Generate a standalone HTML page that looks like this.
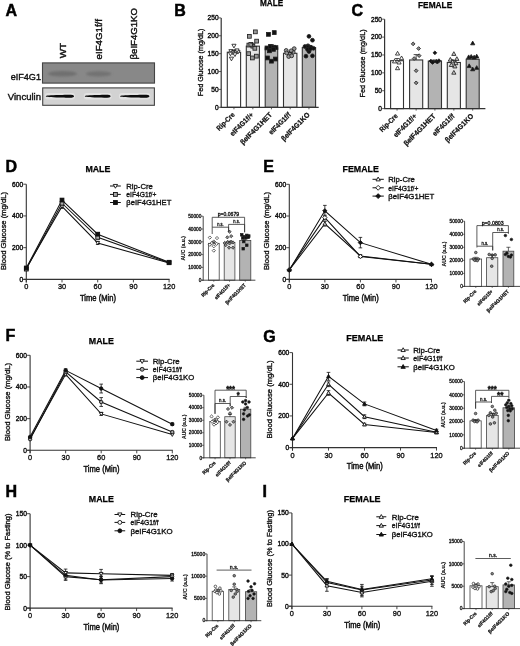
<!DOCTYPE html>
<html><head><meta charset="utf-8"><title>Figure</title>
<style>html,body{margin:0;padding:0;background:#fff;width:520px;height:646px;overflow:hidden}svg{display:block;filter:blur(0.35px)}</style>
</head><body>
<svg width="520" height="646" viewBox="0 0 520 646" font-family='"Liberation Sans", sans-serif' fill="#111"><text x="5.5" y="16" font-size="16" stroke="#000" stroke-width="0.5" font-weight="bold" fill="#000">A</text>
<text x="65.7" y="58.2" font-size="9.2" stroke="#111" stroke-width="0.4" transform="rotate(-90 65.7 58.2)" textLength="15.2" lengthAdjust="spacingAndGlyphs">WT</text>
<text x="102.3" y="59.4" font-size="9.2" stroke="#111" stroke-width="0.4" transform="rotate(-90 102.3 59.4)" textLength="40.4" lengthAdjust="spacingAndGlyphs">eIF4G1f/f</text>
<text x="137.5" y="59.4" font-size="9.2" stroke="#111" stroke-width="0.4" transform="rotate(-90 137.5 59.4)" textLength="51.3" lengthAdjust="spacingAndGlyphs">βeIF4G1KO</text>
<text x="41" y="79.6" font-size="9.3" stroke="#111" stroke-width="0.4" text-anchor="end" textLength="30.3" lengthAdjust="spacingAndGlyphs">eIF4G1</text>
<text x="41" y="99.5" font-size="9.3" stroke="#111" stroke-width="0.4" text-anchor="end" textLength="33.2" lengthAdjust="spacingAndGlyphs">Vinculin</text>
<defs><filter id="bl" x="-20%" y="-50%" width="140%" height="200%"><feGaussianBlur stdDeviation="1.1"/></filter><filter id="bl2" x="-20%" y="-50%" width="140%" height="200%"><feGaussianBlur stdDeviation="0.7"/></filter></defs>
<rect x="42.5" y="62.9" width="112" height="20.2" fill="#888888" stroke="#444" stroke-width="1.1"/>
<g filter="url(#bl)">
<ellipse cx="62.5" cy="73.8" rx="14.5" ry="2.8" fill="#6f6f6f"/>
<ellipse cx="98.7" cy="73.8" rx="12.8" ry="2.6" fill="#727272"/>
</g>
<rect x="42.7" y="87.9" width="111.7" height="17.4" fill="#d2d2d2" stroke="#444" stroke-width="1.1"/>
<g filter="url(#bl2)">
<rect x="44.8" y="93.1" width="30.2" height="6.4" rx="3" fill="#e6e6e6" opacity="0.8"/>
<path d="M45.8,96.3 C45.8,95.5 49.8,95.3 59.9,95.0 C70.0,94.6 74.0,94.5 74.0,96.2 C74.0,97.9 70.0,97.9 59.9,97.6 C49.8,97.3 45.8,97.1 45.8,96.3 Z" fill="#080808"/>
<rect x="83.8" y="93.1" width="27.8" height="6.4" rx="3" fill="#e6e6e6" opacity="0.8"/>
<path d="M84.8,96.3 C84.8,95.5 88.8,95.3 97.7,95.0 C106.6,94.6 110.6,94.5 110.6,96.2 C110.6,97.9 106.6,97.9 97.7,97.6 C88.8,97.3 84.8,97.1 84.8,96.3 Z" fill="#080808"/>
<rect x="119.0" y="93.1" width="31.4" height="6.4" rx="3" fill="#e6e6e6" opacity="0.8"/>
<path d="M120.0,96.3 C120.0,95.5 124.0,95.3 134.7,95.0 C145.4,94.6 149.4,94.5 149.4,96.2 C149.4,97.9 145.4,97.9 134.7,97.6 C124.0,97.3 120.0,97.1 120.0,96.3 Z" fill="#080808"/>
</g>
<text x="174.2" y="15.6" font-size="16" stroke="#000" stroke-width="0.5" font-weight="bold" fill="#000">B</text>
<text x="259.9" y="6.4" font-size="9.2" stroke="#000" stroke-width="0.25" font-weight="bold" textLength="23.3" lengthAdjust="spacingAndGlyphs" fill="#000">MALE</text>
<text x="202.6" y="96.2" font-size="7.9" stroke="#111" stroke-width="0.35" transform="rotate(-90 202.6 96.2)" textLength="67.5" lengthAdjust="spacingAndGlyphs">Fed Glucose (mg/dL)</text>
<rect x="227.3" y="52.23" width="13.3" height="55.07" fill="#ffffff" stroke="#333" stroke-width="1.1"/>
<rect x="246.3" y="46.15" width="13.1" height="61.15" fill="#e6e6e6" stroke="#333" stroke-width="1.1"/>
<rect x="265.2" y="47.94" width="12.5" height="59.36" fill="#b3b3b3" stroke="#333" stroke-width="1.1"/>
<rect x="283.5" y="53.3" width="13.4" height="54" fill="#e6e6e6" stroke="#333" stroke-width="1.1"/>
<rect x="302.3" y="47.58" width="13.3" height="59.72" fill="#b3b3b3" stroke="#333" stroke-width="1.1"/>
<polygon points="233.95,47.98 236.04,44.27 231.86,44.27" fill="#fff" stroke="#222" stroke-width="0.85"/>
<polygon points="230.95,53.34 233.04,49.64 228.86,49.64" fill="#fff" stroke="#222" stroke-width="0.85"/>
<polygon points="235.95,53.7 238.04,49.99 233.86,49.99" fill="#fff" stroke="#222" stroke-width="0.85"/>
<polygon points="237.95,54.06 240.04,50.35 235.86,50.35" fill="#fff" stroke="#222" stroke-width="0.85"/>
<polygon points="232.95,54.77 235.04,51.07 230.86,51.07" fill="#fff" stroke="#222" stroke-width="0.85"/>
<polygon points="236.95,52.63 239.04,48.92 234.86,48.92" fill="#fff" stroke="#222" stroke-width="0.85"/>
<polygon points="230.45,55.84 232.54,52.14 228.36,52.14" fill="#fff" stroke="#222" stroke-width="0.85"/>
<polygon points="231.45,60.85 233.54,57.15 229.36,57.15" fill="#fff" stroke="#222" stroke-width="0.85"/>
<polygon points="234.95,56.56 237.04,52.86 232.86,52.86" fill="#fff" stroke="#222" stroke-width="0.85"/>
<rect x="253.45" y="29.95" width="3.8" height="3.8" fill="#999" stroke="#222" stroke-width="0.85"/>
<rect x="247.45" y="34.42" width="3.8" height="3.8" fill="#999" stroke="#222" stroke-width="0.85"/>
<rect x="254.75" y="39.24" width="3.8" height="3.8" fill="#999" stroke="#222" stroke-width="0.85"/>
<rect x="246.95" y="43.18" width="3.8" height="3.8" fill="#999" stroke="#222" stroke-width="0.85"/>
<rect x="250.95" y="44.25" width="3.8" height="3.8" fill="#999" stroke="#222" stroke-width="0.85"/>
<rect x="246.75" y="51.76" width="3.8" height="3.8" fill="#999" stroke="#222" stroke-width="0.85"/>
<rect x="254.45" y="54.26" width="3.8" height="3.8" fill="#999" stroke="#222" stroke-width="0.85"/>
<rect x="250.45" y="56.05" width="3.8" height="3.8" fill="#999" stroke="#222" stroke-width="0.85"/>
<rect x="252.95" y="46.4" width="3.8" height="3.8" fill="#999" stroke="#222" stroke-width="0.85"/>
<rect x="248.95" y="42.46" width="3.8" height="3.8" fill="#999" stroke="#222" stroke-width="0.85"/>
<rect x="266.55" y="32.45" width="3.8" height="3.8" fill="#111" stroke="#222" stroke-width="0.85"/>
<rect x="272.35" y="30.66" width="3.8" height="3.8" fill="#111" stroke="#222" stroke-width="0.85"/>
<rect x="265.05" y="46.04" width="3.8" height="3.8" fill="#111" stroke="#222" stroke-width="0.85"/>
<rect x="268.55" y="44.61" width="3.8" height="3.8" fill="#111" stroke="#222" stroke-width="0.85"/>
<rect x="271.55" y="45.32" width="3.8" height="3.8" fill="#111" stroke="#222" stroke-width="0.85"/>
<rect x="274.05" y="45.68" width="3.8" height="3.8" fill="#111" stroke="#222" stroke-width="0.85"/>
<rect x="265.55" y="56.05" width="3.8" height="3.8" fill="#111" stroke="#222" stroke-width="0.85"/>
<rect x="269.55" y="59.27" width="3.8" height="3.8" fill="#111" stroke="#222" stroke-width="0.85"/>
<rect x="273.55" y="57.12" width="3.8" height="3.8" fill="#111" stroke="#222" stroke-width="0.85"/>
<rect x="271.55" y="47.47" width="3.8" height="3.8" fill="#111" stroke="#222" stroke-width="0.85"/>
<rect x="267.55" y="48.9" width="3.8" height="3.8" fill="#111" stroke="#222" stroke-width="0.85"/>
<circle cx="286.2" cy="50.44" r="1.9" fill="#999" stroke="#222" stroke-width="0.85"/>
<circle cx="294.2" cy="48.65" r="1.9" fill="#999" stroke="#222" stroke-width="0.85"/>
<circle cx="289.7" cy="53.66" r="1.9" fill="#999" stroke="#222" stroke-width="0.85"/>
<circle cx="293.2" cy="52.23" r="1.9" fill="#999" stroke="#222" stroke-width="0.85"/>
<circle cx="288.7" cy="56.52" r="1.9" fill="#999" stroke="#222" stroke-width="0.85"/>
<circle cx="291.7" cy="55.81" r="1.9" fill="#999" stroke="#222" stroke-width="0.85"/>
<circle cx="286.7" cy="52.94" r="1.9" fill="#999" stroke="#222" stroke-width="0.85"/>
<circle cx="291.2" cy="50.8" r="1.9" fill="#999" stroke="#222" stroke-width="0.85"/>
<circle cx="308.95" cy="36.32" r="1.9" fill="#111" stroke="#222" stroke-width="0.85"/>
<circle cx="312.45" cy="40.21" r="1.9" fill="#111" stroke="#222" stroke-width="0.85"/>
<circle cx="304.95" cy="46.51" r="1.9" fill="#111" stroke="#222" stroke-width="0.85"/>
<circle cx="307.95" cy="45.79" r="1.9" fill="#111" stroke="#222" stroke-width="0.85"/>
<circle cx="310.95" cy="47.22" r="1.9" fill="#111" stroke="#222" stroke-width="0.85"/>
<circle cx="313.45" cy="48.3" r="1.9" fill="#111" stroke="#222" stroke-width="0.85"/>
<circle cx="305.95" cy="56.16" r="1.9" fill="#111" stroke="#222" stroke-width="0.85"/>
<circle cx="312.45" cy="55.81" r="1.9" fill="#111" stroke="#222" stroke-width="0.85"/>
<circle cx="308.95" cy="51.51" r="1.9" fill="#111" stroke="#222" stroke-width="0.85"/>
<circle cx="307.45" cy="49.37" r="1.9" fill="#111" stroke="#222" stroke-width="0.85"/>
<circle cx="310.45" cy="48.65" r="1.9" fill="#111" stroke="#222" stroke-width="0.85"/>
<line x1="233.95" y1="52.23" x2="233.95" y2="50.08" stroke="#222" stroke-width="0.8"/>
<line x1="231.45" y1="50.08" x2="236.45" y2="50.08" stroke="#222" stroke-width="0.8"/>
<line x1="252.85" y1="46.15" x2="252.85" y2="43.29" stroke="#222" stroke-width="0.8"/>
<line x1="250.35" y1="43.29" x2="255.35" y2="43.29" stroke="#222" stroke-width="0.8"/>
<line x1="271.45" y1="47.94" x2="271.45" y2="44.72" stroke="#222" stroke-width="0.8"/>
<line x1="268.95" y1="44.72" x2="273.95" y2="44.72" stroke="#222" stroke-width="0.8"/>
<line x1="290.2" y1="53.3" x2="290.2" y2="52.23" stroke="#222" stroke-width="0.8"/>
<line x1="287.7" y1="52.23" x2="292.7" y2="52.23" stroke="#222" stroke-width="0.8"/>
<line x1="308.95" y1="47.58" x2="308.95" y2="45.44" stroke="#222" stroke-width="0.8"/>
<line x1="306.45" y1="45.44" x2="311.45" y2="45.44" stroke="#222" stroke-width="0.8"/>
<line x1="221.2" y1="17.9" x2="221.2" y2="107.8" stroke="#333" stroke-width="1.2"/>
<line x1="220.7" y1="107.3" x2="318.7" y2="107.3" stroke="#333" stroke-width="1.3"/>
<line x1="218.7" y1="107.3" x2="221.2" y2="107.3" stroke="#333" stroke-width="0.8"/>
<text x="218.6" y="109.6" font-size="6.6" stroke="#111" stroke-width="0.4" text-anchor="end">0</text>
<line x1="218.7" y1="89.42" x2="221.2" y2="89.42" stroke="#333" stroke-width="0.8"/>
<text x="218.6" y="91.72" font-size="6.6" stroke="#111" stroke-width="0.4" text-anchor="end">50</text>
<line x1="218.7" y1="71.54" x2="221.2" y2="71.54" stroke="#333" stroke-width="0.8"/>
<text x="218.6" y="73.84" font-size="6.6" stroke="#111" stroke-width="0.4" text-anchor="end">100</text>
<line x1="218.7" y1="53.66" x2="221.2" y2="53.66" stroke="#333" stroke-width="0.8"/>
<text x="218.6" y="55.96" font-size="6.6" stroke="#111" stroke-width="0.4" text-anchor="end">150</text>
<line x1="218.7" y1="35.78" x2="221.2" y2="35.78" stroke="#333" stroke-width="0.8"/>
<text x="218.6" y="38.08" font-size="6.6" stroke="#111" stroke-width="0.4" text-anchor="end">200</text>
<line x1="218.7" y1="17.9" x2="221.2" y2="17.9" stroke="#333" stroke-width="0.8"/>
<text x="218.6" y="20.2" font-size="6.6" stroke="#111" stroke-width="0.4" text-anchor="end">250</text>
<line x1="233.95" y1="107.3" x2="233.95" y2="109.3" stroke="#333" stroke-width="0.8"/>
<line x1="252.85" y1="107.3" x2="252.85" y2="109.3" stroke="#333" stroke-width="0.8"/>
<line x1="271.45" y1="107.3" x2="271.45" y2="109.3" stroke="#333" stroke-width="0.8"/>
<line x1="290.2" y1="107.3" x2="290.2" y2="109.3" stroke="#333" stroke-width="0.8"/>
<line x1="308.95" y1="107.3" x2="308.95" y2="109.3" stroke="#333" stroke-width="0.8"/>
<text x="235.15" y="115.3" font-size="7.2" stroke="#111" stroke-width="0.25" font-weight="bold" text-anchor="end" transform="rotate(-45 235.15 115.3)" textLength="22.5" lengthAdjust="spacingAndGlyphs">Rip-Cre</text>
<text x="254.05" y="115.3" font-size="7.2" stroke="#111" stroke-width="0.25" font-weight="bold" text-anchor="end" transform="rotate(-45 254.05 115.3)" textLength="30" lengthAdjust="spacingAndGlyphs">eIF4G1f/+</text>
<text x="272.65" y="115.3" font-size="7.2" stroke="#111" stroke-width="0.25" font-weight="bold" text-anchor="end" transform="rotate(-45 272.65 115.3)" textLength="42" lengthAdjust="spacingAndGlyphs">βeIF4G1HET</text>
<text x="291.4" y="115.3" font-size="7.2" stroke="#111" stroke-width="0.25" font-weight="bold" text-anchor="end" transform="rotate(-45 291.4 115.3)" textLength="28" lengthAdjust="spacingAndGlyphs">eIF4G1f/f</text>
<text x="310.15" y="115.3" font-size="7.2" stroke="#111" stroke-width="0.25" font-weight="bold" text-anchor="end" transform="rotate(-45 310.15 115.3)" textLength="37" lengthAdjust="spacingAndGlyphs">βeIF4G1KO</text>
<text x="351.5" y="15.6" font-size="16" stroke="#000" stroke-width="0.5" font-weight="bold" fill="#000">C</text>
<text x="418" y="7.6" font-size="9.2" stroke="#000" stroke-width="0.25" font-weight="bold" textLength="34.2" lengthAdjust="spacingAndGlyphs" fill="#000">FEMALE</text>
<text x="365.2" y="97.4" font-size="7.9" stroke="#111" stroke-width="0.35" transform="rotate(-90 365.2 97.4)" textLength="68" lengthAdjust="spacingAndGlyphs">Fed Glucose (mg/dL)</text>
<rect x="390.6" y="60.68" width="12.9" height="47.92" fill="#ffffff" stroke="#333" stroke-width="1.1"/>
<rect x="409.6" y="59.97" width="13.1" height="48.63" fill="#e6e6e6" stroke="#333" stroke-width="1.1"/>
<rect x="428.3" y="61.04" width="13.2" height="47.56" fill="#b3b3b3" stroke="#333" stroke-width="1.1"/>
<rect x="447.3" y="62.47" width="13.1" height="46.13" fill="#e6e6e6" stroke="#333" stroke-width="1.1"/>
<rect x="466.2" y="59.25" width="13" height="49.35" fill="#b3b3b3" stroke="#333" stroke-width="1.1"/>
<polygon points="397.55,51.34 399.64,55.05 395.46,55.05" fill="#fff" stroke="#222" stroke-width="0.85"/>
<polygon points="401.55,55.99 403.64,59.7 399.46,59.7" fill="#fff" stroke="#222" stroke-width="0.85"/>
<polygon points="394.55,59.21 396.64,62.92 392.46,62.92" fill="#fff" stroke="#222" stroke-width="0.85"/>
<polygon points="397.55,66.01 399.64,69.71 395.46,69.71" fill="#fff" stroke="#222" stroke-width="0.85"/>
<polygon points="399.05,60.28 401.14,63.99 396.96,63.99" fill="#fff" stroke="#222" stroke-width="0.85"/>
<polygon points="413.15,42 415.02,43.87 413.15,45.75 411.27,43.87" fill="#888" stroke="#222" stroke-width="0.85"/>
<polygon points="418.65,46.65 420.52,48.52 418.65,50.4 416.77,48.52" fill="#888" stroke="#222" stroke-width="0.85"/>
<polygon points="414.15,56.66 416.02,58.54 414.15,60.41 412.27,58.54" fill="#888" stroke="#222" stroke-width="0.85"/>
<polygon points="419.15,53.8 421.02,55.68 419.15,57.55 417.27,55.68" fill="#888" stroke="#222" stroke-width="0.85"/>
<polygon points="416.15,68.82 418.02,70.69 416.15,72.57 414.27,70.69" fill="#888" stroke="#222" stroke-width="0.85"/>
<polygon points="416.15,80.98 418.02,82.85 416.15,84.73 414.27,82.85" fill="#888" stroke="#222" stroke-width="0.85"/>
<polygon points="434.9,50.94 436.77,52.81 434.9,54.69 433.02,52.81" fill="#111" stroke="#222" stroke-width="0.85"/>
<polygon points="430.9,59.16 432.77,61.04 430.9,62.91 429.02,61.04" fill="#111" stroke="#222" stroke-width="0.85"/>
<polygon points="433.4,59.88 435.27,61.75 433.4,63.63 431.52,61.75" fill="#111" stroke="#222" stroke-width="0.85"/>
<polygon points="436.4,59.52 438.27,61.4 436.4,63.27 434.52,61.4" fill="#111" stroke="#222" stroke-width="0.85"/>
<polygon points="438.9,58.81 440.77,60.68 438.9,62.56 437.02,60.68" fill="#111" stroke="#222" stroke-width="0.85"/>
<polygon points="432.4,60.59 434.27,62.47 432.4,64.34 430.52,62.47" fill="#111" stroke="#222" stroke-width="0.85"/>
<polygon points="437.4,60.24 439.27,62.11 437.4,63.99 435.52,62.11" fill="#111" stroke="#222" stroke-width="0.85"/>
<polygon points="453.85,51.7 455.94,55.41 451.76,55.41" fill="#ccc" stroke="#222" stroke-width="0.85"/>
<polygon points="450.35,57.42 452.44,61.13 448.26,61.13" fill="#ccc" stroke="#222" stroke-width="0.85"/>
<polygon points="456.85,56.71 458.94,60.41 454.76,60.41" fill="#ccc" stroke="#222" stroke-width="0.85"/>
<polygon points="452.85,59.21 454.94,62.92 450.76,62.92" fill="#ccc" stroke="#222" stroke-width="0.85"/>
<polygon points="455.85,61 457.94,64.7 453.76,64.7" fill="#ccc" stroke="#222" stroke-width="0.85"/>
<polygon points="451.35,62.79 453.44,66.49 449.26,66.49" fill="#ccc" stroke="#222" stroke-width="0.85"/>
<polygon points="454.85,64.22 456.94,67.92 452.76,67.92" fill="#ccc" stroke="#222" stroke-width="0.85"/>
<polygon points="453.85,70.48 455.94,74.18 451.76,74.18" fill="#ccc" stroke="#222" stroke-width="0.85"/>
<polygon points="472.7,41.12 474.79,44.82 470.61,44.82" fill="#111" stroke="#222" stroke-width="0.85"/>
<polygon points="468.7,54.92 470.79,58.63 466.61,58.63" fill="#111" stroke="#222" stroke-width="0.85"/>
<polygon points="471.2,54.56 473.29,58.27 469.11,58.27" fill="#111" stroke="#222" stroke-width="0.85"/>
<polygon points="474.2,55.28 476.29,58.98 472.11,58.98" fill="#111" stroke="#222" stroke-width="0.85"/>
<polygon points="476.7,54.21 478.79,57.91 474.61,57.91" fill="#111" stroke="#222" stroke-width="0.85"/>
<polygon points="469.2,63.86 471.29,67.57 467.11,67.57" fill="#111" stroke="#222" stroke-width="0.85"/>
<polygon points="472.7,67.08 474.79,70.78 470.61,70.78" fill="#111" stroke="#222" stroke-width="0.85"/>
<polygon points="476.7,65.65 478.79,69.35 474.61,69.35" fill="#111" stroke="#222" stroke-width="0.85"/>
<line x1="397.05" y1="60.68" x2="397.05" y2="58.54" stroke="#222" stroke-width="0.8"/>
<line x1="394.55" y1="58.54" x2="399.55" y2="58.54" stroke="#222" stroke-width="0.8"/>
<line x1="416.15" y1="59.97" x2="416.15" y2="54.6" stroke="#222" stroke-width="0.8"/>
<line x1="413.65" y1="54.6" x2="418.65" y2="54.6" stroke="#222" stroke-width="0.8"/>
<line x1="434.9" y1="61.04" x2="434.9" y2="59.97" stroke="#222" stroke-width="0.8"/>
<line x1="432.4" y1="59.97" x2="437.4" y2="59.97" stroke="#222" stroke-width="0.8"/>
<line x1="453.85" y1="62.47" x2="453.85" y2="60.32" stroke="#222" stroke-width="0.8"/>
<line x1="451.35" y1="60.32" x2="456.35" y2="60.32" stroke="#222" stroke-width="0.8"/>
<line x1="472.7" y1="59.25" x2="472.7" y2="56.39" stroke="#222" stroke-width="0.8"/>
<line x1="470.2" y1="56.39" x2="475.2" y2="56.39" stroke="#222" stroke-width="0.8"/>
<line x1="384.6" y1="19.2" x2="384.6" y2="109.1" stroke="#333" stroke-width="1.2"/>
<line x1="384.1" y1="108.6" x2="485.4" y2="108.6" stroke="#333" stroke-width="1.3"/>
<line x1="382.1" y1="108.6" x2="384.6" y2="108.6" stroke="#333" stroke-width="0.8"/>
<text x="382" y="110.9" font-size="6.6" stroke="#111" stroke-width="0.4" text-anchor="end">0</text>
<line x1="382.1" y1="90.72" x2="384.6" y2="90.72" stroke="#333" stroke-width="0.8"/>
<text x="382" y="93.02" font-size="6.6" stroke="#111" stroke-width="0.4" text-anchor="end">50</text>
<line x1="382.1" y1="72.84" x2="384.6" y2="72.84" stroke="#333" stroke-width="0.8"/>
<text x="382" y="75.14" font-size="6.6" stroke="#111" stroke-width="0.4" text-anchor="end">100</text>
<line x1="382.1" y1="54.96" x2="384.6" y2="54.96" stroke="#333" stroke-width="0.8"/>
<text x="382" y="57.26" font-size="6.6" stroke="#111" stroke-width="0.4" text-anchor="end">150</text>
<line x1="382.1" y1="37.08" x2="384.6" y2="37.08" stroke="#333" stroke-width="0.8"/>
<text x="382" y="39.38" font-size="6.6" stroke="#111" stroke-width="0.4" text-anchor="end">200</text>
<line x1="382.1" y1="19.2" x2="384.6" y2="19.2" stroke="#333" stroke-width="0.8"/>
<text x="382" y="21.5" font-size="6.6" stroke="#111" stroke-width="0.4" text-anchor="end">250</text>
<line x1="397.05" y1="108.6" x2="397.05" y2="110.6" stroke="#333" stroke-width="0.8"/>
<line x1="416.15" y1="108.6" x2="416.15" y2="110.6" stroke="#333" stroke-width="0.8"/>
<line x1="434.9" y1="108.6" x2="434.9" y2="110.6" stroke="#333" stroke-width="0.8"/>
<line x1="453.85" y1="108.6" x2="453.85" y2="110.6" stroke="#333" stroke-width="0.8"/>
<line x1="472.7" y1="108.6" x2="472.7" y2="110.6" stroke="#333" stroke-width="0.8"/>
<text x="398.25" y="116.6" font-size="7.2" stroke="#111" stroke-width="0.25" font-weight="bold" text-anchor="end" transform="rotate(-45 398.25 116.6)" textLength="22.5" lengthAdjust="spacingAndGlyphs">Rip-Cre</text>
<text x="417.35" y="116.6" font-size="7.2" stroke="#111" stroke-width="0.25" font-weight="bold" text-anchor="end" transform="rotate(-45 417.35 116.6)" textLength="30" lengthAdjust="spacingAndGlyphs">eIF4G1f/+</text>
<text x="436.1" y="116.6" font-size="7.2" stroke="#111" stroke-width="0.25" font-weight="bold" text-anchor="end" transform="rotate(-45 436.1 116.6)" textLength="42" lengthAdjust="spacingAndGlyphs">βeIF4G1HET</text>
<text x="455.05" y="116.6" font-size="7.2" stroke="#111" stroke-width="0.25" font-weight="bold" text-anchor="end" transform="rotate(-45 455.05 116.6)" textLength="28" lengthAdjust="spacingAndGlyphs">eIF4G1f/f</text>
<text x="473.9" y="116.6" font-size="7.2" stroke="#111" stroke-width="0.25" font-weight="bold" text-anchor="end" transform="rotate(-45 473.9 116.6)" textLength="37" lengthAdjust="spacingAndGlyphs">βeIF4G1KO</text>
<text x="5.5" y="171.8" font-size="16" stroke="#000" stroke-width="0.5" font-weight="bold" fill="#000">D</text>
<text x="85.4" y="171.5" font-size="9.4" stroke="#000" stroke-width="0.25" font-weight="bold" textLength="25" lengthAdjust="spacingAndGlyphs" fill="#000">MALE</text>
<text x="5.6" y="270" font-size="7.9" stroke="#111" stroke-width="0.35" transform="rotate(-90 5.6 270)" textLength="78" lengthAdjust="spacingAndGlyphs">Blood Glucose (mg/dL)</text>
<line x1="26.3" y1="184.2" x2="26.3" y2="282.4" stroke="#333" stroke-width="1.1"/>
<line x1="23.3" y1="279.4" x2="169.6" y2="279.4" stroke="#333" stroke-width="1.1"/>
<line x1="23.3" y1="279.4" x2="26.3" y2="279.4" stroke="#333" stroke-width="0.9"/>
<text x="23.1" y="281.8" font-size="6.7" stroke="#111" stroke-width="0.4" text-anchor="end" textLength="3.7" lengthAdjust="spacingAndGlyphs">0</text>
<line x1="23.3" y1="247.67" x2="26.3" y2="247.67" stroke="#333" stroke-width="0.9"/>
<text x="23.1" y="250.07" font-size="6.7" stroke="#111" stroke-width="0.4" text-anchor="end" textLength="11.1" lengthAdjust="spacingAndGlyphs">200</text>
<line x1="23.3" y1="215.93" x2="26.3" y2="215.93" stroke="#333" stroke-width="0.9"/>
<text x="23.1" y="218.33" font-size="6.7" stroke="#111" stroke-width="0.4" text-anchor="end" textLength="11.1" lengthAdjust="spacingAndGlyphs">400</text>
<line x1="23.3" y1="184.2" x2="26.3" y2="184.2" stroke="#333" stroke-width="0.9"/>
<text x="23.1" y="186.6" font-size="6.7" stroke="#111" stroke-width="0.4" text-anchor="end" textLength="11.1" lengthAdjust="spacingAndGlyphs">600</text>
<line x1="26.3" y1="279.4" x2="26.3" y2="282.4" stroke="#333" stroke-width="0.9"/>
<text x="26.3" y="289.3" font-size="7.9" stroke="#111" stroke-width="0.35" text-anchor="middle" textLength="4.1" lengthAdjust="spacingAndGlyphs">0</text>
<line x1="62" y1="279.4" x2="62" y2="282.4" stroke="#333" stroke-width="0.9"/>
<text x="62" y="289.3" font-size="7.9" stroke="#111" stroke-width="0.35" text-anchor="middle" textLength="8.2" lengthAdjust="spacingAndGlyphs">30</text>
<line x1="97.7" y1="279.4" x2="97.7" y2="282.4" stroke="#333" stroke-width="0.9"/>
<text x="97.7" y="289.3" font-size="7.9" stroke="#111" stroke-width="0.35" text-anchor="middle" textLength="8.2" lengthAdjust="spacingAndGlyphs">60</text>
<line x1="133.4" y1="279.4" x2="133.4" y2="282.4" stroke="#333" stroke-width="0.9"/>
<text x="133.4" y="289.3" font-size="7.9" stroke="#111" stroke-width="0.35" text-anchor="middle" textLength="8.2" lengthAdjust="spacingAndGlyphs">90</text>
<line x1="169.1" y1="279.4" x2="169.1" y2="282.4" stroke="#333" stroke-width="0.9"/>
<text x="169.1" y="289.3" font-size="7.9" stroke="#111" stroke-width="0.35" text-anchor="middle" textLength="12.3" lengthAdjust="spacingAndGlyphs">120</text>
<text x="98" y="300.8" font-size="8.4" stroke="#111" stroke-width="0.45" text-anchor="middle" textLength="36" lengthAdjust="spacingAndGlyphs">Time (Min)</text>
<polyline points="26.3,268.29 62,206.41 97.7,242.91 169.1,263.06" fill="none" stroke="#111" stroke-width="1.05" stroke-linejoin="miter"/>
<polyline points="26.3,269.09 62,203.24 97.7,237.35 169.1,262.74" fill="none" stroke="#111" stroke-width="1.05" stroke-linejoin="miter"/>
<polyline points="26.3,267.98 62,200.07 97.7,234.18 169.1,262.26" fill="none" stroke="#111" stroke-width="1.05" stroke-linejoin="miter"/>
<line x1="62" y1="208.32" x2="62" y2="204.51" stroke="#111" stroke-width="0.8"/>
<line x1="60.2" y1="204.51" x2="63.8" y2="204.51" stroke="#111" stroke-width="0.8"/>
<line x1="60.2" y1="208.32" x2="63.8" y2="208.32" stroke="#111" stroke-width="0.8"/>
<line x1="97.7" y1="244.49" x2="97.7" y2="241.32" stroke="#111" stroke-width="0.8"/>
<line x1="95.9" y1="241.32" x2="99.5" y2="241.32" stroke="#111" stroke-width="0.8"/>
<line x1="95.9" y1="244.49" x2="99.5" y2="244.49" stroke="#111" stroke-width="0.8"/>
<line x1="62" y1="204.83" x2="62" y2="201.65" stroke="#111" stroke-width="0.8"/>
<line x1="60.2" y1="201.65" x2="63.8" y2="201.65" stroke="#111" stroke-width="0.8"/>
<line x1="60.2" y1="204.83" x2="63.8" y2="204.83" stroke="#111" stroke-width="0.8"/>
<line x1="97.7" y1="238.94" x2="97.7" y2="235.77" stroke="#111" stroke-width="0.8"/>
<line x1="95.9" y1="235.77" x2="99.5" y2="235.77" stroke="#111" stroke-width="0.8"/>
<line x1="95.9" y1="238.94" x2="99.5" y2="238.94" stroke="#111" stroke-width="0.8"/>
<line x1="62" y1="201.34" x2="62" y2="198.8" stroke="#111" stroke-width="0.8"/>
<line x1="60.2" y1="198.8" x2="63.8" y2="198.8" stroke="#111" stroke-width="0.8"/>
<line x1="60.2" y1="201.34" x2="63.8" y2="201.34" stroke="#111" stroke-width="0.8"/>
<line x1="97.7" y1="235.45" x2="97.7" y2="232.91" stroke="#111" stroke-width="0.8"/>
<line x1="95.9" y1="232.91" x2="99.5" y2="232.91" stroke="#111" stroke-width="0.8"/>
<line x1="95.9" y1="235.45" x2="99.5" y2="235.45" stroke="#111" stroke-width="0.8"/>
<polygon points="26.3,270.25 28.17,266.93 24.43,266.93" fill="#fff" stroke="#111" stroke-width="0.9"/>
<polygon points="62,208.37 63.87,205.05 60.13,205.05" fill="#fff" stroke="#111" stroke-width="0.9"/>
<polygon points="97.7,244.86 99.57,241.55 95.83,241.55" fill="#fff" stroke="#111" stroke-width="0.9"/>
<polygon points="169.1,265.01 170.97,261.7 167.23,261.7" fill="#fff" stroke="#111" stroke-width="0.9"/>
<rect x="24.4" y="267.19" width="3.8" height="3.8" fill="#aaa" stroke="#111" stroke-width="0.9"/>
<rect x="60.1" y="201.34" width="3.8" height="3.8" fill="#aaa" stroke="#111" stroke-width="0.9"/>
<rect x="95.8" y="235.45" width="3.8" height="3.8" fill="#aaa" stroke="#111" stroke-width="0.9"/>
<rect x="167.2" y="260.84" width="3.8" height="3.8" fill="#aaa" stroke="#111" stroke-width="0.9"/>
<rect x="24.4" y="266.08" width="3.8" height="3.8" fill="#111" stroke="#111" stroke-width="0.9"/>
<rect x="60.1" y="198.17" width="3.8" height="3.8" fill="#111" stroke="#111" stroke-width="0.9"/>
<rect x="95.8" y="232.28" width="3.8" height="3.8" fill="#111" stroke="#111" stroke-width="0.9"/>
<rect x="167.2" y="260.36" width="3.8" height="3.8" fill="#111" stroke="#111" stroke-width="0.9"/>
<line x1="110" y1="186" x2="120.8" y2="186" stroke="#111" stroke-width="1"/>
<polygon points="115.4,188.24 117.55,184.44 113.26,184.44" fill="#fff" stroke="#111" stroke-width="0.9"/>
<text x="126.3" y="188.8" font-size="8" stroke="#111" stroke-width="0.35" textLength="26.5" lengthAdjust="spacingAndGlyphs">Rip-Cre</text>
<line x1="110" y1="194.4" x2="120.8" y2="194.4" stroke="#111" stroke-width="1"/>
<rect x="113.45" y="192.45" width="3.9" height="3.9" fill="#aaa" stroke="#111" stroke-width="0.9"/>
<text x="126.3" y="197.2" font-size="8" stroke="#111" stroke-width="0.35" textLength="30" lengthAdjust="spacingAndGlyphs">eIF4G1f/+</text>
<line x1="110" y1="202.5" x2="120.8" y2="202.5" stroke="#111" stroke-width="1"/>
<rect x="113.45" y="200.55" width="3.9" height="3.9" fill="#111" stroke="#111" stroke-width="0.9"/>
<text x="126.3" y="205.3" font-size="8" stroke="#111" stroke-width="0.35" textLength="45" lengthAdjust="spacingAndGlyphs">βeIF4G1HET</text>
<text x="184.6" y="260.6" font-size="4.9" stroke="#111" stroke-width="0.15" font-weight="bold" transform="rotate(-90 184.6 260.6)" textLength="24.6" lengthAdjust="spacingAndGlyphs">AUC (a.u.)</text>
<rect x="208.4" y="243.34" width="10.8" height="36.86" fill="#ffffff" stroke="#444" stroke-width="0.8"/>
<rect x="224.2" y="242.44" width="10.7" height="37.76" fill="#e6e6e6" stroke="#444" stroke-width="0.8"/>
<rect x="239.7" y="240.52" width="11.1" height="39.68" fill="#b3b3b3" stroke="#444" stroke-width="0.8"/>
<polygon points="209.8,235.95 211.43,237.58 209.8,239.2 208.18,237.58" fill="#fff" stroke="#222" stroke-width="0.7"/>
<polygon points="217,236.46 218.62,238.09 217,239.71 215.38,238.09" fill="#fff" stroke="#222" stroke-width="0.7"/>
<polygon points="213.8,239.92 215.43,241.54 213.8,243.17 212.18,241.54" fill="#fff" stroke="#222" stroke-width="0.7"/>
<polygon points="209.8,243.12 211.43,244.74 209.8,246.37 208.18,244.74" fill="#fff" stroke="#222" stroke-width="0.7"/>
<polygon points="213.8,244.65 215.43,246.28 213.8,247.9 212.18,246.28" fill="#fff" stroke="#222" stroke-width="0.7"/>
<polygon points="216.6,242.22 218.23,243.85 216.6,245.47 214.98,243.85" fill="#fff" stroke="#222" stroke-width="0.7"/>
<polygon points="213.8,249.01 215.43,250.63 213.8,252.26 212.18,250.63" fill="#fff" stroke="#222" stroke-width="0.7"/>
<polygon points="211.8,241.45 213.43,243.08 211.8,244.7 210.18,243.08" fill="#fff" stroke="#222" stroke-width="0.7"/>
<polygon points="229.55,230.06 231.18,231.69 229.55,233.31 227.93,231.69" fill="#858585" stroke="#222" stroke-width="0.7"/>
<polygon points="227.35,235.69 228.98,237.32 227.35,238.94 225.73,237.32" fill="#858585" stroke="#222" stroke-width="0.7"/>
<polygon points="231.25,234.54 232.88,236.17 231.25,237.79 229.62,236.17" fill="#858585" stroke="#222" stroke-width="0.7"/>
<polygon points="224.75,241.33 226.38,242.95 224.75,244.58 223.12,242.95" fill="#858585" stroke="#222" stroke-width="0.7"/>
<polygon points="225.75,243.5 227.38,245.13 225.75,246.75 224.12,245.13" fill="#858585" stroke="#222" stroke-width="0.7"/>
<polygon points="229.05,246.06 230.68,247.69 229.05,249.31 227.43,247.69" fill="#858585" stroke="#222" stroke-width="0.7"/>
<polygon points="232.95,246.06 234.58,247.69 232.95,249.31 231.33,247.69" fill="#858585" stroke="#222" stroke-width="0.7"/>
<polygon points="232.95,240.81 234.58,242.44 232.95,244.06 231.33,242.44" fill="#858585" stroke="#222" stroke-width="0.7"/>
<polygon points="229.55,241.77 231.18,243.4 229.55,245.02 227.93,243.4" fill="#858585" stroke="#222" stroke-width="0.7"/>
<polygon points="227.55,240.43 229.18,242.06 227.55,243.68 225.93,242.06" fill="#858585" stroke="#222" stroke-width="0.7"/>
<polygon points="231.05,240.17 232.68,241.8 231.05,243.42 229.43,241.8" fill="#858585" stroke="#222" stroke-width="0.7"/>
<rect x="240.45" y="233.46" width="2.6" height="2.6" fill="#111" stroke="#222" stroke-width="0.7"/>
<rect x="242.95" y="235.38" width="2.6" height="2.6" fill="#111" stroke="#222" stroke-width="0.7"/>
<rect x="245.45" y="234.1" width="2.6" height="2.6" fill="#111" stroke="#222" stroke-width="0.7"/>
<rect x="247.45" y="234.74" width="2.6" height="2.6" fill="#111" stroke="#222" stroke-width="0.7"/>
<rect x="241.45" y="236.66" width="2.6" height="2.6" fill="#111" stroke="#222" stroke-width="0.7"/>
<rect x="244.45" y="236.4" width="2.6" height="2.6" fill="#111" stroke="#222" stroke-width="0.7"/>
<rect x="246.95" y="236.02" width="2.6" height="2.6" fill="#111" stroke="#222" stroke-width="0.7"/>
<rect x="242.45" y="240.24" width="2.6" height="2.6" fill="#111" stroke="#222" stroke-width="0.7"/>
<rect x="245.45" y="243.96" width="2.6" height="2.6" fill="#111" stroke="#222" stroke-width="0.7"/>
<rect x="241.95" y="247.41" width="2.6" height="2.6" fill="#111" stroke="#222" stroke-width="0.7"/>
<line x1="213.8" y1="243.34" x2="213.8" y2="241.8" stroke="#222" stroke-width="0.7"/>
<line x1="211.8" y1="241.8" x2="215.8" y2="241.8" stroke="#222" stroke-width="0.7"/>
<line x1="229.55" y1="242.44" x2="229.55" y2="241.16" stroke="#222" stroke-width="0.7"/>
<line x1="227.55" y1="241.16" x2="231.55" y2="241.16" stroke="#222" stroke-width="0.7"/>
<line x1="245.25" y1="240.52" x2="245.25" y2="239.11" stroke="#222" stroke-width="0.7"/>
<line x1="243.25" y1="239.11" x2="247.25" y2="239.11" stroke="#222" stroke-width="0.7"/>
<line x1="203.2" y1="216.2" x2="203.2" y2="280.7" stroke="#333" stroke-width="0.9"/>
<line x1="201.7" y1="280.2" x2="255.4" y2="280.2" stroke="#333" stroke-width="0.9"/>
<line x1="201.2" y1="280.2" x2="203.2" y2="280.2" stroke="#333" stroke-width="0.7"/>
<text x="201.4" y="281.9" font-size="4.8" stroke="#111" stroke-width="0.3" text-anchor="end" textLength="2.65" lengthAdjust="spacingAndGlyphs">0</text>
<line x1="201.2" y1="267.4" x2="203.2" y2="267.4" stroke="#333" stroke-width="0.7"/>
<text x="201.4" y="269.1" font-size="4.8" stroke="#111" stroke-width="0.3" text-anchor="end" textLength="13.25" lengthAdjust="spacingAndGlyphs">10000</text>
<line x1="201.2" y1="254.6" x2="203.2" y2="254.6" stroke="#333" stroke-width="0.7"/>
<text x="201.4" y="256.3" font-size="4.8" stroke="#111" stroke-width="0.3" text-anchor="end" textLength="13.25" lengthAdjust="spacingAndGlyphs">20000</text>
<line x1="201.2" y1="241.8" x2="203.2" y2="241.8" stroke="#333" stroke-width="0.7"/>
<text x="201.4" y="243.5" font-size="4.8" stroke="#111" stroke-width="0.3" text-anchor="end" textLength="13.25" lengthAdjust="spacingAndGlyphs">30000</text>
<line x1="201.2" y1="229" x2="203.2" y2="229" stroke="#333" stroke-width="0.7"/>
<text x="201.4" y="230.7" font-size="4.8" stroke="#111" stroke-width="0.3" text-anchor="end" textLength="13.25" lengthAdjust="spacingAndGlyphs">40000</text>
<line x1="201.2" y1="216.2" x2="203.2" y2="216.2" stroke="#333" stroke-width="0.7"/>
<text x="201.4" y="217.9" font-size="4.8" stroke="#111" stroke-width="0.3" text-anchor="end" textLength="13.25" lengthAdjust="spacingAndGlyphs">50000</text>
<line x1="213.8" y1="280.2" x2="213.8" y2="281.7" stroke="#333" stroke-width="0.7"/>
<text x="214.8" y="285.6" font-size="5" stroke="#111" stroke-width="0.25" font-weight="bold" text-anchor="end" transform="rotate(-45 214.8 285.6)" textLength="16.5" lengthAdjust="spacingAndGlyphs">Rip-Cre</text>
<line x1="229.55" y1="280.2" x2="229.55" y2="281.7" stroke="#333" stroke-width="0.7"/>
<text x="230.55" y="285.6" font-size="5" stroke="#111" stroke-width="0.25" font-weight="bold" text-anchor="end" transform="rotate(-45 230.55 285.6)" textLength="20" lengthAdjust="spacingAndGlyphs">eIF4G1f/+</text>
<line x1="245.25" y1="280.2" x2="245.25" y2="281.7" stroke="#333" stroke-width="0.7"/>
<text x="246.25" y="285.6" font-size="5" stroke="#111" stroke-width="0.25" font-weight="bold" text-anchor="end" transform="rotate(-45 246.25 285.6)" textLength="27" lengthAdjust="spacingAndGlyphs">βeIF4G1HET</text>
<polyline points="212.2,234 212.2,227.2 228.6,227.2 228.6,232" fill="none" stroke="#333" stroke-width="0.8" stroke-linejoin="miter"/>
<text x="220.4" y="226.1" font-size="5" stroke="#111" stroke-width="0.3" text-anchor="middle" textLength="6.5" lengthAdjust="spacingAndGlyphs">n.s.</text>
<polyline points="228.6,232 228.6,224.4 244.6,224.4 244.6,232" fill="none" stroke="#333" stroke-width="0.8" stroke-linejoin="miter"/>
<text x="236.6" y="223.3" font-size="5" stroke="#111" stroke-width="0.3" text-anchor="middle" textLength="6.5" lengthAdjust="spacingAndGlyphs">n.s.</text>
<polyline points="212.2,227.2 212.2,217.3 244.6,217.3 244.6,232.5" fill="none" stroke="#333" stroke-width="0.8" stroke-linejoin="miter"/>
<text x="228.4" y="216.2" font-size="5" stroke="#111" stroke-width="0.3" text-anchor="middle" textLength="21.5" lengthAdjust="spacingAndGlyphs">p=0.0679</text>
<text x="263.2" y="171.8" font-size="16" stroke="#000" stroke-width="0.5" font-weight="bold" fill="#000">E</text>
<text x="342.5" y="172" font-size="9.4" stroke="#000" stroke-width="0.25" font-weight="bold" textLength="36.3" lengthAdjust="spacingAndGlyphs" fill="#000">FEMALE</text>
<text x="268.6" y="270" font-size="7.9" stroke="#111" stroke-width="0.35" transform="rotate(-90 268.6 270)" textLength="78" lengthAdjust="spacingAndGlyphs">Blood Glucose (mg/dL)</text>
<line x1="289.3" y1="184.3" x2="289.3" y2="282.4" stroke="#333" stroke-width="1.1"/>
<line x1="286.3" y1="279.4" x2="432" y2="279.4" stroke="#333" stroke-width="1.1"/>
<line x1="286.3" y1="279.4" x2="289.3" y2="279.4" stroke="#333" stroke-width="0.9"/>
<text x="286.1" y="281.8" font-size="6.7" stroke="#111" stroke-width="0.4" text-anchor="end" textLength="3.7" lengthAdjust="spacingAndGlyphs">0</text>
<line x1="286.3" y1="247.7" x2="289.3" y2="247.7" stroke="#333" stroke-width="0.9"/>
<text x="286.1" y="250.1" font-size="6.7" stroke="#111" stroke-width="0.4" text-anchor="end" textLength="11.1" lengthAdjust="spacingAndGlyphs">200</text>
<line x1="286.3" y1="216" x2="289.3" y2="216" stroke="#333" stroke-width="0.9"/>
<text x="286.1" y="218.4" font-size="6.7" stroke="#111" stroke-width="0.4" text-anchor="end" textLength="11.1" lengthAdjust="spacingAndGlyphs">400</text>
<line x1="286.3" y1="184.3" x2="289.3" y2="184.3" stroke="#333" stroke-width="0.9"/>
<text x="286.1" y="186.7" font-size="6.7" stroke="#111" stroke-width="0.4" text-anchor="end" textLength="11.1" lengthAdjust="spacingAndGlyphs">600</text>
<line x1="289.3" y1="279.4" x2="289.3" y2="282.4" stroke="#333" stroke-width="0.9"/>
<text x="289.3" y="289.3" font-size="7.9" stroke="#111" stroke-width="0.35" text-anchor="middle" textLength="4.1" lengthAdjust="spacingAndGlyphs">0</text>
<line x1="324.85" y1="279.4" x2="324.85" y2="282.4" stroke="#333" stroke-width="0.9"/>
<text x="324.85" y="289.3" font-size="7.9" stroke="#111" stroke-width="0.35" text-anchor="middle" textLength="8.2" lengthAdjust="spacingAndGlyphs">30</text>
<line x1="360.4" y1="279.4" x2="360.4" y2="282.4" stroke="#333" stroke-width="0.9"/>
<text x="360.4" y="289.3" font-size="7.9" stroke="#111" stroke-width="0.35" text-anchor="middle" textLength="8.2" lengthAdjust="spacingAndGlyphs">60</text>
<line x1="395.95" y1="279.4" x2="395.95" y2="282.4" stroke="#333" stroke-width="0.9"/>
<text x="395.95" y="289.3" font-size="7.9" stroke="#111" stroke-width="0.35" text-anchor="middle" textLength="8.2" lengthAdjust="spacingAndGlyphs">90</text>
<line x1="431.5" y1="279.4" x2="431.5" y2="282.4" stroke="#333" stroke-width="0.9"/>
<text x="431.5" y="289.3" font-size="7.9" stroke="#111" stroke-width="0.35" text-anchor="middle" textLength="12.3" lengthAdjust="spacingAndGlyphs">120</text>
<text x="360.7" y="300.8" font-size="8.4" stroke="#111" stroke-width="0.45" text-anchor="middle" textLength="36" lengthAdjust="spacingAndGlyphs">Time (Min)</text>
<polyline points="289.3,269.89 324.85,223.77 360.4,255.94 431.5,264.34" fill="none" stroke="#111" stroke-width="1.05" stroke-linejoin="miter"/>
<polyline points="289.3,269.57 324.85,217.59 360.4,256.42 431.5,264.34" fill="none" stroke="#111" stroke-width="1.05" stroke-linejoin="miter"/>
<polyline points="289.3,270.21 324.85,210.77 360.4,242.63 431.5,264.34" fill="none" stroke="#111" stroke-width="1.05" stroke-linejoin="miter"/>
<line x1="324.85" y1="226.14" x2="324.85" y2="221.39" stroke="#111" stroke-width="0.8"/>
<line x1="323.05" y1="221.39" x2="326.65" y2="221.39" stroke="#111" stroke-width="0.8"/>
<line x1="323.05" y1="226.14" x2="326.65" y2="226.14" stroke="#111" stroke-width="0.8"/>
<line x1="360.4" y1="257.21" x2="360.4" y2="254.67" stroke="#111" stroke-width="0.8"/>
<line x1="358.6" y1="254.67" x2="362.2" y2="254.67" stroke="#111" stroke-width="0.8"/>
<line x1="358.6" y1="257.21" x2="362.2" y2="257.21" stroke="#111" stroke-width="0.8"/>
<line x1="324.85" y1="219.96" x2="324.85" y2="215.21" stroke="#111" stroke-width="0.8"/>
<line x1="323.05" y1="215.21" x2="326.65" y2="215.21" stroke="#111" stroke-width="0.8"/>
<line x1="323.05" y1="219.96" x2="326.65" y2="219.96" stroke="#111" stroke-width="0.8"/>
<line x1="360.4" y1="257.69" x2="360.4" y2="255.15" stroke="#111" stroke-width="0.8"/>
<line x1="358.6" y1="255.15" x2="362.2" y2="255.15" stroke="#111" stroke-width="0.8"/>
<line x1="358.6" y1="257.69" x2="362.2" y2="257.69" stroke="#111" stroke-width="0.8"/>
<line x1="324.85" y1="216.16" x2="324.85" y2="205.38" stroke="#111" stroke-width="0.8"/>
<line x1="323.05" y1="205.38" x2="326.65" y2="205.38" stroke="#111" stroke-width="0.8"/>
<line x1="323.05" y1="216.16" x2="326.65" y2="216.16" stroke="#111" stroke-width="0.8"/>
<line x1="360.4" y1="247.86" x2="360.4" y2="237.4" stroke="#111" stroke-width="0.8"/>
<line x1="358.6" y1="237.4" x2="362.2" y2="237.4" stroke="#111" stroke-width="0.8"/>
<line x1="358.6" y1="247.86" x2="362.2" y2="247.86" stroke="#111" stroke-width="0.8"/>
<polygon points="289.3,267.94 291.17,271.25 287.43,271.25" fill="#fff" stroke="#111" stroke-width="0.9"/>
<polygon points="324.85,221.81 326.72,225.13 322.98,225.13" fill="#fff" stroke="#111" stroke-width="0.9"/>
<polygon points="360.4,253.99 362.27,257.3 358.53,257.3" fill="#fff" stroke="#111" stroke-width="0.9"/>
<polygon points="431.5,262.39 433.37,265.7 429.63,265.7" fill="#fff" stroke="#111" stroke-width="0.9"/>
<polygon points="289.3,267.45 291.43,269.57 289.3,271.7 287.18,269.57" fill="#fff" stroke="#111" stroke-width="0.9"/>
<polygon points="324.85,215.46 326.98,217.59 324.85,219.71 322.73,217.59" fill="#fff" stroke="#111" stroke-width="0.9"/>
<polygon points="360.4,254.29 362.52,256.42 360.4,258.54 358.27,256.42" fill="#fff" stroke="#111" stroke-width="0.9"/>
<polygon points="431.5,262.22 433.62,264.34 431.5,266.47 429.38,264.34" fill="#fff" stroke="#111" stroke-width="0.9"/>
<polygon points="289.3,268.08 291.43,270.21 289.3,272.33 287.18,270.21" fill="#111" stroke="#111" stroke-width="0.9"/>
<polygon points="324.85,208.64 326.98,210.77 324.85,212.89 322.73,210.77" fill="#111" stroke="#111" stroke-width="0.9"/>
<polygon points="360.4,240.5 362.52,242.63 360.4,244.75 358.27,242.63" fill="#111" stroke="#111" stroke-width="0.9"/>
<polygon points="431.5,262.22 433.62,264.34 431.5,266.47 429.38,264.34" fill="#111" stroke="#111" stroke-width="0.9"/>
<line x1="372.5" y1="179.3" x2="383.8" y2="179.3" stroke="#111" stroke-width="1"/>
<polygon points="378.15,177.06 380.29,180.86 376,180.86" fill="#fff" stroke="#111" stroke-width="0.9"/>
<text x="388.3" y="182.1" font-size="8" stroke="#111" stroke-width="0.35" textLength="26.5" lengthAdjust="spacingAndGlyphs">Rip-Cre</text>
<line x1="372.5" y1="187.8" x2="383.8" y2="187.8" stroke="#111" stroke-width="1"/>
<polygon points="378.15,185.36 380.59,187.8 378.15,190.24 375.71,187.8" fill="#fff" stroke="#111" stroke-width="0.9"/>
<text x="388.3" y="190.6" font-size="8" stroke="#111" stroke-width="0.35" textLength="30" lengthAdjust="spacingAndGlyphs">eIF4G1f/+</text>
<line x1="372.5" y1="196.1" x2="383.8" y2="196.1" stroke="#111" stroke-width="1"/>
<polygon points="378.15,193.66 380.59,196.1 378.15,198.54 375.71,196.1" fill="#111" stroke="#111" stroke-width="0.9"/>
<text x="388.3" y="198.9" font-size="8" stroke="#111" stroke-width="0.35" textLength="46" lengthAdjust="spacingAndGlyphs">βeIF4G1HET</text>
<text x="446.2" y="266.5" font-size="4.9" stroke="#111" stroke-width="0.15" font-weight="bold" transform="rotate(-90 446.2 266.5)" textLength="25" lengthAdjust="spacingAndGlyphs">AUC (a.u.)</text>
<rect x="470" y="259.02" width="11.6" height="27.38" fill="#ffffff" stroke="#444" stroke-width="0.8"/>
<rect x="486.6" y="257.71" width="11.2" height="28.69" fill="#e6e6e6" stroke="#444" stroke-width="0.8"/>
<rect x="503" y="251.19" width="10.8" height="35.21" fill="#b3b3b3" stroke="#444" stroke-width="0.8"/>
<circle cx="475.8" cy="252.5" r="1.3" fill="#888" stroke="#222" stroke-width="0.7"/>
<circle cx="473.3" cy="259.02" r="1.3" fill="#888" stroke="#222" stroke-width="0.7"/>
<circle cx="475.8" cy="259.67" r="1.3" fill="#888" stroke="#222" stroke-width="0.7"/>
<circle cx="478.3" cy="259.02" r="1.3" fill="#888" stroke="#222" stroke-width="0.7"/>
<circle cx="474.8" cy="260.32" r="1.3" fill="#888" stroke="#222" stroke-width="0.7"/>
<circle cx="477.3" cy="260.58" r="1.3" fill="#888" stroke="#222" stroke-width="0.7"/>
<circle cx="489.2" cy="254.45" r="1.3" fill="#858585" stroke="#222" stroke-width="0.7"/>
<circle cx="492.2" cy="255.1" r="1.3" fill="#858585" stroke="#222" stroke-width="0.7"/>
<circle cx="495.2" cy="254.84" r="1.3" fill="#858585" stroke="#222" stroke-width="0.7"/>
<circle cx="492.2" cy="258.36" r="1.3" fill="#858585" stroke="#222" stroke-width="0.7"/>
<circle cx="491.7" cy="266.19" r="1.3" fill="#858585" stroke="#222" stroke-width="0.7"/>
<circle cx="505.4" cy="235.54" r="1.3" fill="#111" stroke="#222" stroke-width="0.7"/>
<circle cx="511.4" cy="239.46" r="1.3" fill="#111" stroke="#222" stroke-width="0.7"/>
<circle cx="505.4" cy="254.45" r="1.3" fill="#111" stroke="#222" stroke-width="0.7"/>
<circle cx="508.4" cy="256.41" r="1.3" fill="#111" stroke="#222" stroke-width="0.7"/>
<circle cx="511.4" cy="255.1" r="1.3" fill="#111" stroke="#222" stroke-width="0.7"/>
<circle cx="506.9" cy="253.15" r="1.3" fill="#111" stroke="#222" stroke-width="0.7"/>
<circle cx="510.4" cy="257.06" r="1.3" fill="#111" stroke="#222" stroke-width="0.7"/>
<line x1="475.8" y1="259.02" x2="475.8" y2="257.32" stroke="#222" stroke-width="0.7"/>
<line x1="473.8" y1="257.32" x2="477.8" y2="257.32" stroke="#222" stroke-width="0.7"/>
<line x1="492.2" y1="257.71" x2="492.2" y2="255.1" stroke="#222" stroke-width="0.7"/>
<line x1="490.2" y1="255.1" x2="494.2" y2="255.1" stroke="#222" stroke-width="0.7"/>
<line x1="508.4" y1="251.19" x2="508.4" y2="247.28" stroke="#222" stroke-width="0.7"/>
<line x1="506.4" y1="247.28" x2="510.4" y2="247.28" stroke="#222" stroke-width="0.7"/>
<line x1="464.6" y1="221.2" x2="464.6" y2="286.9" stroke="#333" stroke-width="0.9"/>
<line x1="463.1" y1="286.4" x2="520" y2="286.4" stroke="#333" stroke-width="0.9"/>
<line x1="462.6" y1="286.4" x2="464.6" y2="286.4" stroke="#333" stroke-width="0.7"/>
<text x="462.8" y="288.1" font-size="4.8" stroke="#111" stroke-width="0.3" text-anchor="end" textLength="2.65" lengthAdjust="spacingAndGlyphs">0</text>
<line x1="462.6" y1="273.36" x2="464.6" y2="273.36" stroke="#333" stroke-width="0.7"/>
<text x="462.8" y="275.06" font-size="4.8" stroke="#111" stroke-width="0.3" text-anchor="end" textLength="13.25" lengthAdjust="spacingAndGlyphs">10000</text>
<line x1="462.6" y1="260.32" x2="464.6" y2="260.32" stroke="#333" stroke-width="0.7"/>
<text x="462.8" y="262.02" font-size="4.8" stroke="#111" stroke-width="0.3" text-anchor="end" textLength="13.25" lengthAdjust="spacingAndGlyphs">20000</text>
<line x1="462.6" y1="247.28" x2="464.6" y2="247.28" stroke="#333" stroke-width="0.7"/>
<text x="462.8" y="248.98" font-size="4.8" stroke="#111" stroke-width="0.3" text-anchor="end" textLength="13.25" lengthAdjust="spacingAndGlyphs">30000</text>
<line x1="462.6" y1="234.24" x2="464.6" y2="234.24" stroke="#333" stroke-width="0.7"/>
<text x="462.8" y="235.94" font-size="4.8" stroke="#111" stroke-width="0.3" text-anchor="end" textLength="13.25" lengthAdjust="spacingAndGlyphs">40000</text>
<line x1="462.6" y1="221.2" x2="464.6" y2="221.2" stroke="#333" stroke-width="0.7"/>
<text x="462.8" y="222.9" font-size="4.8" stroke="#111" stroke-width="0.3" text-anchor="end" textLength="13.25" lengthAdjust="spacingAndGlyphs">50000</text>
<line x1="475.8" y1="286.4" x2="475.8" y2="287.9" stroke="#333" stroke-width="0.7"/>
<text x="476.8" y="291.8" font-size="5" stroke="#111" stroke-width="0.25" font-weight="bold" text-anchor="end" transform="rotate(-45 476.8 291.8)" textLength="16.5" lengthAdjust="spacingAndGlyphs">Rip-Cre</text>
<line x1="492.2" y1="286.4" x2="492.2" y2="287.9" stroke="#333" stroke-width="0.7"/>
<text x="493.2" y="291.8" font-size="5" stroke="#111" stroke-width="0.25" font-weight="bold" text-anchor="end" transform="rotate(-45 493.2 291.8)" textLength="20" lengthAdjust="spacingAndGlyphs">eIF4G1f/+</text>
<line x1="508.4" y1="286.4" x2="508.4" y2="287.9" stroke="#333" stroke-width="0.7"/>
<text x="509.4" y="291.8" font-size="5" stroke="#111" stroke-width="0.25" font-weight="bold" text-anchor="end" transform="rotate(-45 509.4 291.8)" textLength="29.5" lengthAdjust="spacingAndGlyphs">βeIF4G1HET</text>
<polyline points="476.9,247.5 476.9,246.2 492.7,246.2 492.7,250.4" fill="none" stroke="#333" stroke-width="0.8" stroke-linejoin="miter"/>
<text x="484.8" y="245.1" font-size="5" stroke="#111" stroke-width="0.3" text-anchor="middle" textLength="6.8" lengthAdjust="spacingAndGlyphs">n.s.</text>
<polyline points="492.7,250.4 492.7,232.5 508.4,232.5 508.4,233.5" fill="none" stroke="#333" stroke-width="0.8" stroke-linejoin="miter"/>
<text x="500.55" y="231.4" font-size="5" stroke="#111" stroke-width="0.3" text-anchor="middle" textLength="6.8" lengthAdjust="spacingAndGlyphs">n.s.</text>
<polyline points="476.9,246.2 476.9,225.6 508.4,225.6 508.4,233.5" fill="none" stroke="#333" stroke-width="0.8" stroke-linejoin="miter"/>
<text x="492.65" y="224.5" font-size="5" stroke="#111" stroke-width="0.3" text-anchor="middle" textLength="22" lengthAdjust="spacingAndGlyphs">p=0.0803</text>
<text x="5.5" y="341" font-size="16" stroke="#000" stroke-width="0.5" font-weight="bold" fill="#000">F</text>
<text x="88.8" y="343.6" font-size="9.4" stroke="#000" stroke-width="0.25" font-weight="bold" textLength="25" lengthAdjust="spacingAndGlyphs" fill="#000">MALE</text>
<text x="9.5" y="441" font-size="7.9" stroke="#111" stroke-width="0.35" transform="rotate(-90 9.5 441)" textLength="78" lengthAdjust="spacingAndGlyphs">Blood Glucose (mg/dL)</text>
<line x1="30.1" y1="355.3" x2="30.1" y2="453.3" stroke="#333" stroke-width="1.1"/>
<line x1="27.1" y1="450.3" x2="172.8" y2="450.3" stroke="#333" stroke-width="1.1"/>
<line x1="27.1" y1="450.3" x2="30.1" y2="450.3" stroke="#333" stroke-width="0.9"/>
<text x="26.9" y="452.7" font-size="6.7" stroke="#111" stroke-width="0.4" text-anchor="end" textLength="3.7" lengthAdjust="spacingAndGlyphs">0</text>
<line x1="27.1" y1="418.63" x2="30.1" y2="418.63" stroke="#333" stroke-width="0.9"/>
<text x="26.9" y="421.03" font-size="6.7" stroke="#111" stroke-width="0.4" text-anchor="end" textLength="11.1" lengthAdjust="spacingAndGlyphs">200</text>
<line x1="27.1" y1="386.97" x2="30.1" y2="386.97" stroke="#333" stroke-width="0.9"/>
<text x="26.9" y="389.37" font-size="6.7" stroke="#111" stroke-width="0.4" text-anchor="end" textLength="11.1" lengthAdjust="spacingAndGlyphs">400</text>
<line x1="27.1" y1="355.3" x2="30.1" y2="355.3" stroke="#333" stroke-width="0.9"/>
<text x="26.9" y="357.7" font-size="6.7" stroke="#111" stroke-width="0.4" text-anchor="end" textLength="11.1" lengthAdjust="spacingAndGlyphs">600</text>
<line x1="30.1" y1="450.3" x2="30.1" y2="453.3" stroke="#333" stroke-width="0.9"/>
<text x="30.1" y="460.2" font-size="7.9" stroke="#111" stroke-width="0.35" text-anchor="middle" textLength="4.1" lengthAdjust="spacingAndGlyphs">0</text>
<line x1="65.65" y1="450.3" x2="65.65" y2="453.3" stroke="#333" stroke-width="0.9"/>
<text x="65.65" y="460.2" font-size="7.9" stroke="#111" stroke-width="0.35" text-anchor="middle" textLength="8.2" lengthAdjust="spacingAndGlyphs">30</text>
<line x1="101.2" y1="450.3" x2="101.2" y2="453.3" stroke="#333" stroke-width="0.9"/>
<text x="101.2" y="460.2" font-size="7.9" stroke="#111" stroke-width="0.35" text-anchor="middle" textLength="8.2" lengthAdjust="spacingAndGlyphs">60</text>
<line x1="136.75" y1="450.3" x2="136.75" y2="453.3" stroke="#333" stroke-width="0.9"/>
<text x="136.75" y="460.2" font-size="7.9" stroke="#111" stroke-width="0.35" text-anchor="middle" textLength="8.2" lengthAdjust="spacingAndGlyphs">90</text>
<line x1="172.3" y1="450.3" x2="172.3" y2="453.3" stroke="#333" stroke-width="0.9"/>
<text x="172.3" y="460.2" font-size="7.9" stroke="#111" stroke-width="0.35" text-anchor="middle" textLength="12.3" lengthAdjust="spacingAndGlyphs">120</text>
<text x="101.5" y="471.7" font-size="8.4" stroke="#111" stroke-width="0.45" text-anchor="middle" textLength="36" lengthAdjust="spacingAndGlyphs">Time (Min)</text>
<polyline points="30.1,438.43 65.65,374.3 101.2,413.88 172.3,434.47" fill="none" stroke="#111" stroke-width="1.05" stroke-linejoin="miter"/>
<polyline points="30.1,439.22 65.65,371.93 101.2,402.01 172.3,432.09" fill="none" stroke="#111" stroke-width="1.05" stroke-linejoin="miter"/>
<polyline points="30.1,436.84 65.65,370.34 101.2,388.55 172.3,424.18" fill="none" stroke="#111" stroke-width="1.05" stroke-linejoin="miter"/>
<line x1="65.65" y1="375.88" x2="65.65" y2="372.72" stroke="#111" stroke-width="0.8"/>
<line x1="63.85" y1="372.72" x2="67.45" y2="372.72" stroke="#111" stroke-width="0.8"/>
<line x1="63.85" y1="375.88" x2="67.45" y2="375.88" stroke="#111" stroke-width="0.8"/>
<line x1="101.2" y1="415.47" x2="101.2" y2="412.3" stroke="#111" stroke-width="0.8"/>
<line x1="99.4" y1="412.3" x2="103" y2="412.3" stroke="#111" stroke-width="0.8"/>
<line x1="99.4" y1="415.47" x2="103" y2="415.47" stroke="#111" stroke-width="0.8"/>
<line x1="65.65" y1="373.51" x2="65.65" y2="370.34" stroke="#111" stroke-width="0.8"/>
<line x1="63.85" y1="370.34" x2="67.45" y2="370.34" stroke="#111" stroke-width="0.8"/>
<line x1="63.85" y1="373.51" x2="67.45" y2="373.51" stroke="#111" stroke-width="0.8"/>
<line x1="101.2" y1="406.44" x2="101.2" y2="397.58" stroke="#111" stroke-width="0.8"/>
<line x1="99.4" y1="397.58" x2="103" y2="397.58" stroke="#111" stroke-width="0.8"/>
<line x1="99.4" y1="406.44" x2="103" y2="406.44" stroke="#111" stroke-width="0.8"/>
<line x1="172.3" y1="433.04" x2="172.3" y2="431.14" stroke="#111" stroke-width="0.8"/>
<line x1="170.5" y1="431.14" x2="174.1" y2="431.14" stroke="#111" stroke-width="0.8"/>
<line x1="170.5" y1="433.04" x2="174.1" y2="433.04" stroke="#111" stroke-width="0.8"/>
<line x1="65.65" y1="371.93" x2="65.65" y2="368.76" stroke="#111" stroke-width="0.8"/>
<line x1="63.85" y1="368.76" x2="67.45" y2="368.76" stroke="#111" stroke-width="0.8"/>
<line x1="63.85" y1="371.93" x2="67.45" y2="371.93" stroke="#111" stroke-width="0.8"/>
<line x1="101.2" y1="392.98" x2="101.2" y2="384.12" stroke="#111" stroke-width="0.8"/>
<line x1="99.4" y1="384.12" x2="103" y2="384.12" stroke="#111" stroke-width="0.8"/>
<line x1="99.4" y1="392.98" x2="103" y2="392.98" stroke="#111" stroke-width="0.8"/>
<line x1="172.3" y1="425.44" x2="172.3" y2="422.91" stroke="#111" stroke-width="0.8"/>
<line x1="170.5" y1="422.91" x2="174.1" y2="422.91" stroke="#111" stroke-width="0.8"/>
<line x1="170.5" y1="425.44" x2="174.1" y2="425.44" stroke="#111" stroke-width="0.8"/>
<polygon points="30.1,440.38 31.97,437.06 28.23,437.06" fill="#fff" stroke="#111" stroke-width="0.9"/>
<polygon points="65.65,376.25 67.52,372.94 63.78,372.94" fill="#fff" stroke="#111" stroke-width="0.9"/>
<polygon points="101.2,415.84 103.07,412.52 99.33,412.52" fill="#fff" stroke="#111" stroke-width="0.9"/>
<polygon points="172.3,436.42 174.17,433.11 170.43,433.11" fill="#fff" stroke="#111" stroke-width="0.9"/>
<circle cx="30.1" cy="439.22" r="1.7" fill="#aaa" stroke="#111" stroke-width="0.9"/>
<circle cx="65.65" cy="371.93" r="1.7" fill="#aaa" stroke="#111" stroke-width="0.9"/>
<circle cx="101.2" cy="402.01" r="1.7" fill="#aaa" stroke="#111" stroke-width="0.9"/>
<circle cx="172.3" cy="432.09" r="1.7" fill="#aaa" stroke="#111" stroke-width="0.9"/>
<circle cx="30.1" cy="436.84" r="1.7" fill="#111" stroke="#111" stroke-width="0.9"/>
<circle cx="65.65" cy="370.34" r="1.7" fill="#111" stroke="#111" stroke-width="0.9"/>
<circle cx="101.2" cy="388.55" r="1.7" fill="#111" stroke="#111" stroke-width="0.9"/>
<circle cx="172.3" cy="424.18" r="1.7" fill="#111" stroke="#111" stroke-width="0.9"/>
<line x1="136.3" y1="361.2" x2="148" y2="361.2" stroke="#111" stroke-width="1"/>
<polygon points="142.15,363.44 144.3,359.64 140,359.64" fill="#fff" stroke="#111" stroke-width="0.9"/>
<text x="152.7" y="364" font-size="8" stroke="#111" stroke-width="0.35" textLength="27" lengthAdjust="spacingAndGlyphs">Rip-Cre</text>
<line x1="136.3" y1="369.3" x2="148" y2="369.3" stroke="#111" stroke-width="1"/>
<circle cx="142.15" cy="369.3" r="1.95" fill="#aaa" stroke="#111" stroke-width="0.9"/>
<text x="152.7" y="372.1" font-size="8" stroke="#111" stroke-width="0.35" textLength="29" lengthAdjust="spacingAndGlyphs">eIF4G1f/f</text>
<line x1="136.3" y1="377.6" x2="148" y2="377.6" stroke="#111" stroke-width="1"/>
<circle cx="142.15" cy="377.6" r="1.95" fill="#111" stroke="#111" stroke-width="0.9"/>
<text x="152.7" y="380.4" font-size="8" stroke="#111" stroke-width="0.35" textLength="41.5" lengthAdjust="spacingAndGlyphs">βeIF4G1KO</text>
<text x="186.3" y="438.9" font-size="4.9" stroke="#111" stroke-width="0.15" font-weight="bold" transform="rotate(-90 186.3 438.9)" textLength="24.2" lengthAdjust="spacingAndGlyphs">AUC (a.u.)</text>
<rect x="209.8" y="421.49" width="10.5" height="36.31" fill="#ffffff" stroke="#444" stroke-width="0.8"/>
<rect x="224.8" y="416.73" width="10.4" height="41.07" fill="#e6e6e6" stroke="#444" stroke-width="0.8"/>
<rect x="240.4" y="409.22" width="10.4" height="48.58" fill="#b3b3b3" stroke="#444" stroke-width="0.8"/>
<polygon points="211.55,414.86 213.18,416.48 211.55,418.11 209.93,416.48" fill="#fff" stroke="#222" stroke-width="0.7"/>
<polygon points="217.85,415.74 219.48,417.36 217.85,418.99 216.23,417.36" fill="#fff" stroke="#222" stroke-width="0.7"/>
<polygon points="215.05,417.99 216.68,419.61 215.05,421.24 213.43,419.61" fill="#fff" stroke="#222" stroke-width="0.7"/>
<polygon points="213.55,418.87 215.18,420.49 213.55,422.12 211.93,420.49" fill="#fff" stroke="#222" stroke-width="0.7"/>
<polygon points="216.55,418.62 218.18,420.24 216.55,421.87 214.93,420.24" fill="#fff" stroke="#222" stroke-width="0.7"/>
<polygon points="212.05,420.12 213.68,421.74 212.05,423.37 210.43,421.74" fill="#fff" stroke="#222" stroke-width="0.7"/>
<polygon points="217.55,420.49 219.18,422.12 217.55,423.74 215.93,422.12" fill="#fff" stroke="#222" stroke-width="0.7"/>
<polygon points="214.05,423 215.68,424.62 214.05,426.25 212.43,424.62" fill="#fff" stroke="#222" stroke-width="0.7"/>
<polygon points="216.05,421.75 217.68,423.37 216.05,425 214.43,423.37" fill="#fff" stroke="#222" stroke-width="0.7"/>
<polygon points="228,407.35 229.62,408.97 228,410.6 226.38,408.97" fill="#858585" stroke="#222" stroke-width="0.7"/>
<polygon points="232,406.09 233.62,407.72 232,409.34 230.38,407.72" fill="#858585" stroke="#222" stroke-width="0.7"/>
<polygon points="230,411.73 231.62,413.35 230,414.98 228.38,413.35" fill="#858585" stroke="#222" stroke-width="0.7"/>
<polygon points="226.5,420.12 228.12,421.74 226.5,423.37 224.88,421.74" fill="#858585" stroke="#222" stroke-width="0.7"/>
<polygon points="233.5,420.12 235.12,421.74 233.5,423.37 231.88,421.74" fill="#858585" stroke="#222" stroke-width="0.7"/>
<polygon points="230,423.25 231.62,424.87 230,426.5 228.38,424.87" fill="#858585" stroke="#222" stroke-width="0.7"/>
<circle cx="245.6" cy="400.58" r="1.3" fill="#111" stroke="#222" stroke-width="0.7"/>
<circle cx="242.8" cy="401.96" r="1.3" fill="#111" stroke="#222" stroke-width="0.7"/>
<circle cx="249" cy="401.96" r="1.3" fill="#111" stroke="#222" stroke-width="0.7"/>
<circle cx="245.6" cy="403.96" r="1.3" fill="#111" stroke="#222" stroke-width="0.7"/>
<circle cx="247.3" cy="407.47" r="1.3" fill="#111" stroke="#222" stroke-width="0.7"/>
<circle cx="244.4" cy="409.85" r="1.3" fill="#111" stroke="#222" stroke-width="0.7"/>
<circle cx="243.6" cy="413.85" r="1.3" fill="#111" stroke="#222" stroke-width="0.7"/>
<circle cx="247.6" cy="415.98" r="1.3" fill="#111" stroke="#222" stroke-width="0.7"/>
<circle cx="249.4" cy="414.86" r="1.3" fill="#111" stroke="#222" stroke-width="0.7"/>
<circle cx="243.6" cy="419.36" r="1.3" fill="#111" stroke="#222" stroke-width="0.7"/>
<line x1="215.05" y1="421.49" x2="215.05" y2="420.24" stroke="#222" stroke-width="0.7"/>
<line x1="213.05" y1="420.24" x2="217.05" y2="420.24" stroke="#222" stroke-width="0.7"/>
<line x1="230" y1="416.73" x2="230" y2="414.48" stroke="#222" stroke-width="0.7"/>
<line x1="228" y1="414.48" x2="232" y2="414.48" stroke="#222" stroke-width="0.7"/>
<line x1="245.6" y1="409.22" x2="245.6" y2="407.34" stroke="#222" stroke-width="0.7"/>
<line x1="243.6" y1="407.34" x2="247.6" y2="407.34" stroke="#222" stroke-width="0.7"/>
<line x1="203.9" y1="395.2" x2="203.9" y2="458.3" stroke="#333" stroke-width="0.9"/>
<line x1="202.4" y1="457.8" x2="255.7" y2="457.8" stroke="#333" stroke-width="0.9"/>
<line x1="201.9" y1="457.8" x2="203.9" y2="457.8" stroke="#333" stroke-width="0.7"/>
<text x="202.1" y="459.5" font-size="4.8" stroke="#111" stroke-width="0.3" text-anchor="end" textLength="2.65" lengthAdjust="spacingAndGlyphs">0</text>
<line x1="201.9" y1="445.28" x2="203.9" y2="445.28" stroke="#333" stroke-width="0.7"/>
<text x="202.1" y="446.98" font-size="4.8" stroke="#111" stroke-width="0.3" text-anchor="end" textLength="13.25" lengthAdjust="spacingAndGlyphs">10000</text>
<line x1="201.9" y1="432.76" x2="203.9" y2="432.76" stroke="#333" stroke-width="0.7"/>
<text x="202.1" y="434.46" font-size="4.8" stroke="#111" stroke-width="0.3" text-anchor="end" textLength="13.25" lengthAdjust="spacingAndGlyphs">20000</text>
<line x1="201.9" y1="420.24" x2="203.9" y2="420.24" stroke="#333" stroke-width="0.7"/>
<text x="202.1" y="421.94" font-size="4.8" stroke="#111" stroke-width="0.3" text-anchor="end" textLength="13.25" lengthAdjust="spacingAndGlyphs">30000</text>
<line x1="201.9" y1="407.72" x2="203.9" y2="407.72" stroke="#333" stroke-width="0.7"/>
<text x="202.1" y="409.42" font-size="4.8" stroke="#111" stroke-width="0.3" text-anchor="end" textLength="13.25" lengthAdjust="spacingAndGlyphs">40000</text>
<line x1="201.9" y1="395.2" x2="203.9" y2="395.2" stroke="#333" stroke-width="0.7"/>
<text x="202.1" y="396.9" font-size="4.8" stroke="#111" stroke-width="0.3" text-anchor="end" textLength="13.25" lengthAdjust="spacingAndGlyphs">50000</text>
<line x1="215.05" y1="457.8" x2="215.05" y2="459.3" stroke="#333" stroke-width="0.7"/>
<text x="216.05" y="463.2" font-size="5" stroke="#111" stroke-width="0.25" font-weight="bold" text-anchor="end" transform="rotate(-45 216.05 463.2)" textLength="16.5" lengthAdjust="spacingAndGlyphs">Rip-Cre</text>
<line x1="230" y1="457.8" x2="230" y2="459.3" stroke="#333" stroke-width="0.7"/>
<text x="231" y="463.2" font-size="5" stroke="#111" stroke-width="0.25" font-weight="bold" text-anchor="end" transform="rotate(-45 231 463.2)" textLength="19.5" lengthAdjust="spacingAndGlyphs">eIF4G1f/f</text>
<line x1="245.6" y1="457.8" x2="245.6" y2="459.3" stroke="#333" stroke-width="0.7"/>
<text x="246.6" y="463.2" font-size="5" stroke="#111" stroke-width="0.25" font-weight="bold" text-anchor="end" transform="rotate(-45 246.6 463.2)" textLength="26.5" lengthAdjust="spacingAndGlyphs">βeIF4G1KO</text>
<polyline points="215,413.8 215,403.5 230.2,403.5 230.2,406.3" fill="none" stroke="#333" stroke-width="0.8" stroke-linejoin="miter"/>
<text x="222.6" y="402.4" font-size="5" stroke="#111" stroke-width="0.3" text-anchor="middle" textLength="7" lengthAdjust="spacingAndGlyphs">n.s.</text>
<polyline points="230.2,406.3 230.2,396.5 246.2,396.5 246.2,398" fill="none" stroke="#333" stroke-width="0.8" stroke-linejoin="miter"/>
<text x="238.2" y="398.4" font-size="9" stroke="#111" stroke-width="0.45" font-weight="bold" text-anchor="middle" textLength="2.9" lengthAdjust="spacingAndGlyphs">*</text>
<polyline points="215,413.8 215,390.2 246.2,390.2 246.2,398" fill="none" stroke="#333" stroke-width="0.8" stroke-linejoin="miter"/>
<text x="230.6" y="392.1" font-size="9" stroke="#111" stroke-width="0.45" font-weight="bold" text-anchor="middle" textLength="8.9" lengthAdjust="spacingAndGlyphs">***</text>
<text x="263.2" y="341.5" font-size="16" stroke="#000" stroke-width="0.5" font-weight="bold" fill="#000">G</text>
<text x="346.2" y="341.4" font-size="9.4" stroke="#000" stroke-width="0.25" font-weight="bold" textLength="37" lengthAdjust="spacingAndGlyphs" fill="#000">FEMALE</text>
<text x="272.4" y="438.5" font-size="7.9" stroke="#111" stroke-width="0.35" transform="rotate(-90 272.4 438.5)" textLength="78" lengthAdjust="spacingAndGlyphs">Blood Glucose (mg/dL)</text>
<line x1="292.5" y1="352.6" x2="292.5" y2="450.6" stroke="#333" stroke-width="1.1"/>
<line x1="289.5" y1="447.6" x2="437" y2="447.6" stroke="#333" stroke-width="1.1"/>
<line x1="289.5" y1="447.6" x2="292.5" y2="447.6" stroke="#333" stroke-width="0.9"/>
<text x="289.3" y="450" font-size="6.7" stroke="#111" stroke-width="0.4" text-anchor="end" textLength="3.7" lengthAdjust="spacingAndGlyphs">0</text>
<line x1="289.5" y1="415.93" x2="292.5" y2="415.93" stroke="#333" stroke-width="0.9"/>
<text x="289.3" y="418.33" font-size="6.7" stroke="#111" stroke-width="0.4" text-anchor="end" textLength="11.1" lengthAdjust="spacingAndGlyphs">200</text>
<line x1="289.5" y1="384.27" x2="292.5" y2="384.27" stroke="#333" stroke-width="0.9"/>
<text x="289.3" y="386.67" font-size="6.7" stroke="#111" stroke-width="0.4" text-anchor="end" textLength="11.1" lengthAdjust="spacingAndGlyphs">400</text>
<line x1="289.5" y1="352.6" x2="292.5" y2="352.6" stroke="#333" stroke-width="0.9"/>
<text x="289.3" y="355" font-size="6.7" stroke="#111" stroke-width="0.4" text-anchor="end" textLength="11.1" lengthAdjust="spacingAndGlyphs">600</text>
<line x1="292.5" y1="447.6" x2="292.5" y2="450.6" stroke="#333" stroke-width="0.9"/>
<text x="292.5" y="457.5" font-size="7.9" stroke="#111" stroke-width="0.35" text-anchor="middle" textLength="4.1" lengthAdjust="spacingAndGlyphs">0</text>
<line x1="328.5" y1="447.6" x2="328.5" y2="450.6" stroke="#333" stroke-width="0.9"/>
<text x="328.5" y="457.5" font-size="7.9" stroke="#111" stroke-width="0.35" text-anchor="middle" textLength="8.2" lengthAdjust="spacingAndGlyphs">30</text>
<line x1="364.5" y1="447.6" x2="364.5" y2="450.6" stroke="#333" stroke-width="0.9"/>
<text x="364.5" y="457.5" font-size="7.9" stroke="#111" stroke-width="0.35" text-anchor="middle" textLength="8.2" lengthAdjust="spacingAndGlyphs">60</text>
<line x1="400.5" y1="447.6" x2="400.5" y2="450.6" stroke="#333" stroke-width="0.9"/>
<text x="400.5" y="457.5" font-size="7.9" stroke="#111" stroke-width="0.35" text-anchor="middle" textLength="8.2" lengthAdjust="spacingAndGlyphs">90</text>
<line x1="436.5" y1="447.6" x2="436.5" y2="450.6" stroke="#333" stroke-width="0.9"/>
<text x="436.5" y="457.5" font-size="7.9" stroke="#111" stroke-width="0.35" text-anchor="middle" textLength="12.3" lengthAdjust="spacingAndGlyphs">120</text>
<text x="364.8" y="469" font-size="8.4" stroke="#111" stroke-width="0.45" text-anchor="middle" textLength="36" lengthAdjust="spacingAndGlyphs">Time (Min)</text>
<polyline points="292.5,438.42 328.5,392.98 364.5,424.48 436.5,432.56" fill="none" stroke="#111" stroke-width="1.05" stroke-linejoin="miter"/>
<polyline points="292.5,438.42 328.5,384.27 364.5,416.73 436.5,432.24" fill="none" stroke="#111" stroke-width="1.05" stroke-linejoin="miter"/>
<polyline points="292.5,438.42 328.5,376.35 364.5,403.9 436.5,430.5" fill="none" stroke="#111" stroke-width="1.05" stroke-linejoin="miter"/>
<line x1="328.5" y1="395.35" x2="328.5" y2="390.6" stroke="#111" stroke-width="0.8"/>
<line x1="326.7" y1="390.6" x2="330.3" y2="390.6" stroke="#111" stroke-width="0.8"/>
<line x1="326.7" y1="395.35" x2="330.3" y2="395.35" stroke="#111" stroke-width="0.8"/>
<line x1="364.5" y1="425.75" x2="364.5" y2="423.22" stroke="#111" stroke-width="0.8"/>
<line x1="362.7" y1="423.22" x2="366.3" y2="423.22" stroke="#111" stroke-width="0.8"/>
<line x1="362.7" y1="425.75" x2="366.3" y2="425.75" stroke="#111" stroke-width="0.8"/>
<line x1="328.5" y1="386.64" x2="328.5" y2="381.89" stroke="#111" stroke-width="0.8"/>
<line x1="326.7" y1="381.89" x2="330.3" y2="381.89" stroke="#111" stroke-width="0.8"/>
<line x1="326.7" y1="386.64" x2="330.3" y2="386.64" stroke="#111" stroke-width="0.8"/>
<line x1="364.5" y1="418.62" x2="364.5" y2="414.83" stroke="#111" stroke-width="0.8"/>
<line x1="362.7" y1="414.83" x2="366.3" y2="414.83" stroke="#111" stroke-width="0.8"/>
<line x1="362.7" y1="418.62" x2="366.3" y2="418.62" stroke="#111" stroke-width="0.8"/>
<line x1="328.5" y1="380.31" x2="328.5" y2="372.39" stroke="#111" stroke-width="0.8"/>
<line x1="326.7" y1="372.39" x2="330.3" y2="372.39" stroke="#111" stroke-width="0.8"/>
<line x1="326.7" y1="380.31" x2="330.3" y2="380.31" stroke="#111" stroke-width="0.8"/>
<line x1="364.5" y1="405.8" x2="364.5" y2="402" stroke="#111" stroke-width="0.8"/>
<line x1="362.7" y1="402" x2="366.3" y2="402" stroke="#111" stroke-width="0.8"/>
<line x1="362.7" y1="405.8" x2="366.3" y2="405.8" stroke="#111" stroke-width="0.8"/>
<line x1="436.5" y1="431.77" x2="436.5" y2="429.23" stroke="#111" stroke-width="0.8"/>
<line x1="434.7" y1="429.23" x2="438.3" y2="429.23" stroke="#111" stroke-width="0.8"/>
<line x1="434.7" y1="431.77" x2="438.3" y2="431.77" stroke="#111" stroke-width="0.8"/>
<polygon points="292.5,436.46 294.37,439.78 290.63,439.78" fill="#fff" stroke="#111" stroke-width="0.9"/>
<polygon points="328.5,391.02 330.37,394.34 326.63,394.34" fill="#fff" stroke="#111" stroke-width="0.9"/>
<polygon points="364.5,422.53 366.37,425.84 362.63,425.84" fill="#fff" stroke="#111" stroke-width="0.9"/>
<polygon points="436.5,430.6 438.37,433.92 434.63,433.92" fill="#fff" stroke="#111" stroke-width="0.9"/>
<polygon points="292.5,436.46 294.37,439.78 290.63,439.78" fill="#ddd" stroke="#111" stroke-width="0.9"/>
<polygon points="328.5,382.31 330.37,385.63 326.63,385.63" fill="#ddd" stroke="#111" stroke-width="0.9"/>
<polygon points="364.5,414.77 366.37,418.09 362.63,418.09" fill="#ddd" stroke="#111" stroke-width="0.9"/>
<polygon points="436.5,430.29 438.37,433.6 434.63,433.6" fill="#ddd" stroke="#111" stroke-width="0.9"/>
<polygon points="292.5,436.46 294.37,439.78 290.63,439.78" fill="#111" stroke="#111" stroke-width="0.9"/>
<polygon points="328.5,374.4 330.37,377.71 326.63,377.71" fill="#111" stroke="#111" stroke-width="0.9"/>
<polygon points="364.5,401.95 366.37,405.26 362.63,405.26" fill="#111" stroke="#111" stroke-width="0.9"/>
<polygon points="436.5,428.55 438.37,431.86 434.63,431.86" fill="#111" stroke="#111" stroke-width="0.9"/>
<line x1="397.5" y1="350" x2="408.8" y2="350" stroke="#111" stroke-width="1"/>
<polygon points="403.15,347.76 405.29,351.56 401,351.56" fill="#fff" stroke="#111" stroke-width="0.9"/>
<text x="413.2" y="352.8" font-size="8" stroke="#111" stroke-width="0.35" textLength="27" lengthAdjust="spacingAndGlyphs">Rip-Cre</text>
<line x1="397.5" y1="358" x2="408.8" y2="358" stroke="#111" stroke-width="1"/>
<polygon points="403.15,355.76 405.29,359.56 401,359.56" fill="#ddd" stroke="#111" stroke-width="0.9"/>
<text x="413.2" y="360.8" font-size="8" stroke="#111" stroke-width="0.35" textLength="29" lengthAdjust="spacingAndGlyphs">eIF4G1f/f</text>
<line x1="397.5" y1="366.8" x2="408.8" y2="366.8" stroke="#111" stroke-width="1"/>
<polygon points="403.15,364.56 405.29,368.36 401,368.36" fill="#111" stroke="#111" stroke-width="0.9"/>
<text x="413.2" y="369.6" font-size="8" stroke="#111" stroke-width="0.35" textLength="41.5" lengthAdjust="spacingAndGlyphs">βeIF4G1KO</text>
<text x="445.4" y="427.8" font-size="4.9" stroke="#111" stroke-width="0.15" font-weight="bold" transform="rotate(-90 445.4 427.8)" textLength="25.5" lengthAdjust="spacingAndGlyphs">AUC (a.u.)</text>
<rect x="470" y="420.85" width="11.2" height="27.35" fill="#ffffff" stroke="#444" stroke-width="0.8"/>
<rect x="486.6" y="415.52" width="11.6" height="32.68" fill="#e6e6e6" stroke="#444" stroke-width="0.8"/>
<rect x="503" y="407.78" width="11.6" height="40.42" fill="#b3b3b3" stroke="#444" stroke-width="0.8"/>
<circle cx="475.6" cy="413.52" r="1.3" fill="#888" stroke="#222" stroke-width="0.7"/>
<circle cx="473.1" cy="420.19" r="1.3" fill="#888" stroke="#222" stroke-width="0.7"/>
<circle cx="475.6" cy="420.85" r="1.3" fill="#888" stroke="#222" stroke-width="0.7"/>
<circle cx="478.1" cy="420.19" r="1.3" fill="#888" stroke="#222" stroke-width="0.7"/>
<circle cx="474.6" cy="421.52" r="1.3" fill="#888" stroke="#222" stroke-width="0.7"/>
<circle cx="477.1" cy="421.79" r="1.3" fill="#888" stroke="#222" stroke-width="0.7"/>
<circle cx="492.3" cy="406.45" r="1.3" fill="#858585" stroke="#222" stroke-width="0.7"/>
<circle cx="494.8" cy="410.18" r="1.3" fill="#858585" stroke="#222" stroke-width="0.7"/>
<circle cx="490.4" cy="412.85" r="1.3" fill="#858585" stroke="#222" stroke-width="0.7"/>
<circle cx="496.2" cy="413.25" r="1.3" fill="#858585" stroke="#222" stroke-width="0.7"/>
<circle cx="488.8" cy="415.38" r="1.3" fill="#858585" stroke="#222" stroke-width="0.7"/>
<circle cx="492.7" cy="416.98" r="1.3" fill="#858585" stroke="#222" stroke-width="0.7"/>
<circle cx="490.4" cy="423.92" r="1.3" fill="#858585" stroke="#222" stroke-width="0.7"/>
<circle cx="494.4" cy="422.85" r="1.3" fill="#858585" stroke="#222" stroke-width="0.7"/>
<circle cx="493.4" cy="414.18" r="1.3" fill="#858585" stroke="#222" stroke-width="0.7"/>
<circle cx="508.8" cy="400.18" r="1.3" fill="#111" stroke="#222" stroke-width="0.7"/>
<circle cx="507.3" cy="402.84" r="1.3" fill="#111" stroke="#222" stroke-width="0.7"/>
<circle cx="510.8" cy="403.51" r="1.3" fill="#111" stroke="#222" stroke-width="0.7"/>
<circle cx="505.8" cy="404.85" r="1.3" fill="#111" stroke="#222" stroke-width="0.7"/>
<circle cx="508.8" cy="406.18" r="1.3" fill="#111" stroke="#222" stroke-width="0.7"/>
<circle cx="511.8" cy="405.78" r="1.3" fill="#111" stroke="#222" stroke-width="0.7"/>
<circle cx="506.8" cy="407.51" r="1.3" fill="#111" stroke="#222" stroke-width="0.7"/>
<circle cx="509.8" cy="408.85" r="1.3" fill="#111" stroke="#222" stroke-width="0.7"/>
<circle cx="512.3" cy="408.85" r="1.3" fill="#111" stroke="#222" stroke-width="0.7"/>
<circle cx="507.8" cy="410.58" r="1.3" fill="#111" stroke="#222" stroke-width="0.7"/>
<circle cx="510.3" cy="410.85" r="1.3" fill="#111" stroke="#222" stroke-width="0.7"/>
<circle cx="508.3" cy="415.38" r="1.3" fill="#111" stroke="#222" stroke-width="0.7"/>
<circle cx="508.3" cy="420.72" r="1.3" fill="#111" stroke="#222" stroke-width="0.7"/>
<line x1="475.6" y1="420.85" x2="475.6" y2="419.79" stroke="#222" stroke-width="0.7"/>
<line x1="473.6" y1="419.79" x2="477.6" y2="419.79" stroke="#222" stroke-width="0.7"/>
<line x1="492.4" y1="415.52" x2="492.4" y2="413.52" stroke="#222" stroke-width="0.7"/>
<line x1="490.4" y1="413.52" x2="494.4" y2="413.52" stroke="#222" stroke-width="0.7"/>
<line x1="508.8" y1="407.78" x2="508.8" y2="406.18" stroke="#222" stroke-width="0.7"/>
<line x1="506.8" y1="406.18" x2="510.8" y2="406.18" stroke="#222" stroke-width="0.7"/>
<line x1="464.4" y1="381.5" x2="464.4" y2="448.7" stroke="#333" stroke-width="0.9"/>
<line x1="462.9" y1="448.2" x2="520" y2="448.2" stroke="#333" stroke-width="0.9"/>
<line x1="462.4" y1="448.2" x2="464.4" y2="448.2" stroke="#333" stroke-width="0.7"/>
<text x="462.6" y="449.9" font-size="4.8" stroke="#111" stroke-width="0.3" text-anchor="end" textLength="2.65" lengthAdjust="spacingAndGlyphs">0</text>
<line x1="462.4" y1="434.86" x2="464.4" y2="434.86" stroke="#333" stroke-width="0.7"/>
<text x="462.6" y="436.56" font-size="4.8" stroke="#111" stroke-width="0.3" text-anchor="end" textLength="13.25" lengthAdjust="spacingAndGlyphs">10000</text>
<line x1="462.4" y1="421.52" x2="464.4" y2="421.52" stroke="#333" stroke-width="0.7"/>
<text x="462.6" y="423.22" font-size="4.8" stroke="#111" stroke-width="0.3" text-anchor="end" textLength="13.25" lengthAdjust="spacingAndGlyphs">20000</text>
<line x1="462.4" y1="408.18" x2="464.4" y2="408.18" stroke="#333" stroke-width="0.7"/>
<text x="462.6" y="409.88" font-size="4.8" stroke="#111" stroke-width="0.3" text-anchor="end" textLength="13.25" lengthAdjust="spacingAndGlyphs">30000</text>
<line x1="462.4" y1="394.84" x2="464.4" y2="394.84" stroke="#333" stroke-width="0.7"/>
<text x="462.6" y="396.54" font-size="4.8" stroke="#111" stroke-width="0.3" text-anchor="end" textLength="13.25" lengthAdjust="spacingAndGlyphs">40000</text>
<line x1="462.4" y1="381.5" x2="464.4" y2="381.5" stroke="#333" stroke-width="0.7"/>
<text x="462.6" y="383.2" font-size="4.8" stroke="#111" stroke-width="0.3" text-anchor="end" textLength="13.25" lengthAdjust="spacingAndGlyphs">50000</text>
<line x1="475.6" y1="448.2" x2="475.6" y2="449.7" stroke="#333" stroke-width="0.7"/>
<text x="476.6" y="453.6" font-size="5" stroke="#111" stroke-width="0.25" font-weight="bold" text-anchor="end" transform="rotate(-45 476.6 453.6)" textLength="16.5" lengthAdjust="spacingAndGlyphs">Rip-Cre</text>
<line x1="492.4" y1="448.2" x2="492.4" y2="449.7" stroke="#333" stroke-width="0.7"/>
<text x="493.4" y="453.6" font-size="5" stroke="#111" stroke-width="0.25" font-weight="bold" text-anchor="end" transform="rotate(-45 493.4 453.6)" textLength="19.5" lengthAdjust="spacingAndGlyphs">eIF4G1f/f</text>
<line x1="508.8" y1="448.2" x2="508.8" y2="449.7" stroke="#333" stroke-width="0.7"/>
<text x="509.8" y="453.6" font-size="5" stroke="#111" stroke-width="0.25" font-weight="bold" text-anchor="end" transform="rotate(-45 509.8 453.6)" textLength="26.5" lengthAdjust="spacingAndGlyphs">βeIF4G1KO</text>
<polyline points="475.6,408.6 475.6,402 491.5,402 491.5,402.8" fill="none" stroke="#333" stroke-width="0.8" stroke-linejoin="miter"/>
<text x="483.55" y="400.9" font-size="5" stroke="#111" stroke-width="0.3" text-anchor="middle" textLength="7.2" lengthAdjust="spacingAndGlyphs">n.s.</text>
<polyline points="491.5,402.8 491.5,396.4 508.9,396.4 508.9,398" fill="none" stroke="#333" stroke-width="0.8" stroke-linejoin="miter"/>
<text x="500.2" y="398.3" font-size="9" stroke="#111" stroke-width="0.45" font-weight="bold" text-anchor="middle" textLength="6.3" lengthAdjust="spacingAndGlyphs">**</text>
<polyline points="475.6,408.6 475.6,390.3 508.9,390.3 508.9,396.4" fill="none" stroke="#333" stroke-width="0.8" stroke-linejoin="miter"/>
<text x="492.25" y="392.2" font-size="9" stroke="#111" stroke-width="0.45" font-weight="bold" text-anchor="middle" textLength="8.9" lengthAdjust="spacingAndGlyphs">***</text>
<text x="5.5" y="497.3" font-size="16" stroke="#000" stroke-width="0.5" font-weight="bold" fill="#000">H</text>
<text x="88.8" y="501.8" font-size="9.4" stroke="#000" stroke-width="0.25" font-weight="bold" textLength="25" lengthAdjust="spacingAndGlyphs" fill="#000">MALE</text>
<text x="9.6" y="610.5" font-size="7.9" stroke="#111" stroke-width="0.35" transform="rotate(-90 9.6 610.5)" textLength="97" lengthAdjust="spacingAndGlyphs">Blood Glucose (% to Fasting)</text>
<line x1="30.1" y1="513.7" x2="30.1" y2="611.1" stroke="#333" stroke-width="1.1"/>
<line x1="27.1" y1="608.1" x2="172.6" y2="608.1" stroke="#333" stroke-width="1.1"/>
<line x1="27.1" y1="608.1" x2="30.1" y2="608.1" stroke="#333" stroke-width="0.9"/>
<text x="26.9" y="610.5" font-size="6.7" stroke="#111" stroke-width="0.4" text-anchor="end" textLength="3.75" lengthAdjust="spacingAndGlyphs">0</text>
<line x1="27.1" y1="576.63" x2="30.1" y2="576.63" stroke="#333" stroke-width="0.9"/>
<text x="26.9" y="579.03" font-size="6.7" stroke="#111" stroke-width="0.4" text-anchor="end" textLength="7.5" lengthAdjust="spacingAndGlyphs">50</text>
<line x1="27.1" y1="545.17" x2="30.1" y2="545.17" stroke="#333" stroke-width="0.9"/>
<text x="26.9" y="547.57" font-size="6.7" stroke="#111" stroke-width="0.4" text-anchor="end" textLength="11.25" lengthAdjust="spacingAndGlyphs">100</text>
<line x1="27.1" y1="513.7" x2="30.1" y2="513.7" stroke="#333" stroke-width="0.9"/>
<text x="26.9" y="516.1" font-size="6.7" stroke="#111" stroke-width="0.4" text-anchor="end" textLength="11.25" lengthAdjust="spacingAndGlyphs">150</text>
<line x1="30.1" y1="608.1" x2="30.1" y2="611.1" stroke="#333" stroke-width="0.9"/>
<text x="30.1" y="618" font-size="7.9" stroke="#111" stroke-width="0.35" text-anchor="middle" textLength="4.1" lengthAdjust="spacingAndGlyphs">0</text>
<line x1="65.6" y1="608.1" x2="65.6" y2="611.1" stroke="#333" stroke-width="0.9"/>
<text x="65.6" y="618" font-size="7.9" stroke="#111" stroke-width="0.35" text-anchor="middle" textLength="8.2" lengthAdjust="spacingAndGlyphs">30</text>
<line x1="101.1" y1="608.1" x2="101.1" y2="611.1" stroke="#333" stroke-width="0.9"/>
<text x="101.1" y="618" font-size="7.9" stroke="#111" stroke-width="0.35" text-anchor="middle" textLength="8.2" lengthAdjust="spacingAndGlyphs">60</text>
<line x1="136.6" y1="608.1" x2="136.6" y2="611.1" stroke="#333" stroke-width="0.9"/>
<text x="136.6" y="618" font-size="7.9" stroke="#111" stroke-width="0.35" text-anchor="middle" textLength="8.2" lengthAdjust="spacingAndGlyphs">90</text>
<line x1="172.1" y1="608.1" x2="172.1" y2="611.1" stroke="#333" stroke-width="0.9"/>
<text x="172.1" y="618" font-size="7.9" stroke="#111" stroke-width="0.35" text-anchor="middle" textLength="12.3" lengthAdjust="spacingAndGlyphs">120</text>
<text x="101.4" y="629.5" font-size="8.4" stroke="#111" stroke-width="0.45" text-anchor="middle" textLength="36" lengthAdjust="spacingAndGlyphs">Time (Min)</text>
<polyline points="30.1,545.17 65.6,572.86 101.1,573.8 172.1,575.37" fill="none" stroke="#111" stroke-width="1.05" stroke-linejoin="miter"/>
<polyline points="30.1,545.17 65.6,576.63 101.1,579.78 172.1,576.63" fill="none" stroke="#111" stroke-width="1.05" stroke-linejoin="miter"/>
<polyline points="30.1,545.17 65.6,575.37 101.1,579.91 172.1,578.52" fill="none" stroke="#111" stroke-width="1.05" stroke-linejoin="miter"/>
<line x1="65.6" y1="576.63" x2="65.6" y2="569.08" stroke="#111" stroke-width="0.8"/>
<line x1="63.8" y1="569.08" x2="67.4" y2="569.08" stroke="#111" stroke-width="0.8"/>
<line x1="63.8" y1="576.63" x2="67.4" y2="576.63" stroke="#111" stroke-width="0.8"/>
<line x1="101.1" y1="578.21" x2="101.1" y2="569.4" stroke="#111" stroke-width="0.8"/>
<line x1="99.3" y1="569.4" x2="102.9" y2="569.4" stroke="#111" stroke-width="0.8"/>
<line x1="99.3" y1="578.21" x2="102.9" y2="578.21" stroke="#111" stroke-width="0.8"/>
<line x1="172.1" y1="577.26" x2="172.1" y2="573.49" stroke="#111" stroke-width="0.8"/>
<line x1="170.3" y1="573.49" x2="173.9" y2="573.49" stroke="#111" stroke-width="0.8"/>
<line x1="170.3" y1="577.26" x2="173.9" y2="577.26" stroke="#111" stroke-width="0.8"/>
<line x1="65.6" y1="580.41" x2="65.6" y2="572.86" stroke="#111" stroke-width="0.8"/>
<line x1="63.8" y1="572.86" x2="67.4" y2="572.86" stroke="#111" stroke-width="0.8"/>
<line x1="63.8" y1="580.41" x2="67.4" y2="580.41" stroke="#111" stroke-width="0.8"/>
<line x1="101.1" y1="582.93" x2="101.1" y2="576.63" stroke="#111" stroke-width="0.8"/>
<line x1="99.3" y1="576.63" x2="102.9" y2="576.63" stroke="#111" stroke-width="0.8"/>
<line x1="99.3" y1="582.93" x2="102.9" y2="582.93" stroke="#111" stroke-width="0.8"/>
<line x1="172.1" y1="578.52" x2="172.1" y2="574.75" stroke="#111" stroke-width="0.8"/>
<line x1="170.3" y1="574.75" x2="173.9" y2="574.75" stroke="#111" stroke-width="0.8"/>
<line x1="170.3" y1="578.52" x2="173.9" y2="578.52" stroke="#111" stroke-width="0.8"/>
<line x1="65.6" y1="579.15" x2="65.6" y2="571.6" stroke="#111" stroke-width="0.8"/>
<line x1="63.8" y1="571.6" x2="67.4" y2="571.6" stroke="#111" stroke-width="0.8"/>
<line x1="63.8" y1="579.15" x2="67.4" y2="579.15" stroke="#111" stroke-width="0.8"/>
<line x1="101.1" y1="583.68" x2="101.1" y2="576.13" stroke="#111" stroke-width="0.8"/>
<line x1="99.3" y1="576.13" x2="102.9" y2="576.13" stroke="#111" stroke-width="0.8"/>
<line x1="99.3" y1="583.68" x2="102.9" y2="583.68" stroke="#111" stroke-width="0.8"/>
<line x1="172.1" y1="581.04" x2="172.1" y2="576" stroke="#111" stroke-width="0.8"/>
<line x1="170.3" y1="576" x2="173.9" y2="576" stroke="#111" stroke-width="0.8"/>
<line x1="170.3" y1="581.04" x2="173.9" y2="581.04" stroke="#111" stroke-width="0.8"/>
<polygon points="30.1,547.12 31.97,543.81 28.23,543.81" fill="#fff" stroke="#111" stroke-width="0.9"/>
<polygon points="65.6,574.81 67.47,571.5 63.73,571.5" fill="#fff" stroke="#111" stroke-width="0.9"/>
<polygon points="101.1,575.76 102.97,572.44 99.23,572.44" fill="#fff" stroke="#111" stroke-width="0.9"/>
<polygon points="172.1,577.33 173.97,574.01 170.23,574.01" fill="#fff" stroke="#111" stroke-width="0.9"/>
<circle cx="30.1" cy="545.17" r="1.7" fill="#fff" stroke="#111" stroke-width="0.9"/>
<circle cx="65.6" cy="576.63" r="1.7" fill="#fff" stroke="#111" stroke-width="0.9"/>
<circle cx="101.1" cy="579.78" r="1.7" fill="#fff" stroke="#111" stroke-width="0.9"/>
<circle cx="172.1" cy="576.63" r="1.7" fill="#fff" stroke="#111" stroke-width="0.9"/>
<circle cx="30.1" cy="545.17" r="1.7" fill="#111" stroke="#111" stroke-width="0.9"/>
<circle cx="65.6" cy="575.37" r="1.7" fill="#111" stroke="#111" stroke-width="0.9"/>
<circle cx="101.1" cy="579.91" r="1.7" fill="#111" stroke="#111" stroke-width="0.9"/>
<circle cx="172.1" cy="578.52" r="1.7" fill="#111" stroke="#111" stroke-width="0.9"/>
<line x1="114.5" y1="514.5" x2="125.2" y2="514.5" stroke="#111" stroke-width="1"/>
<polygon points="119.85,516.74 121.99,512.94 117.7,512.94" fill="#fff" stroke="#111" stroke-width="0.9"/>
<text x="130.5" y="517.3" font-size="8" stroke="#111" stroke-width="0.35" textLength="27" lengthAdjust="spacingAndGlyphs">Rip-Cre</text>
<line x1="114.5" y1="522.4" x2="125.2" y2="522.4" stroke="#111" stroke-width="1"/>
<circle cx="119.85" cy="522.4" r="1.95" fill="#fff" stroke="#111" stroke-width="0.9"/>
<text x="130.5" y="525.2" font-size="8" stroke="#111" stroke-width="0.35" textLength="28" lengthAdjust="spacingAndGlyphs">eIF4G1f/f</text>
<line x1="114.5" y1="530.8" x2="125.2" y2="530.8" stroke="#111" stroke-width="1"/>
<circle cx="119.85" cy="530.8" r="1.95" fill="#111" stroke="#111" stroke-width="0.9"/>
<text x="130.5" y="533.6" font-size="8" stroke="#111" stroke-width="0.35" textLength="42" lengthAdjust="spacingAndGlyphs">βeIF4G1KO</text>
<text x="187.4" y="599.8" font-size="4.9" stroke="#111" stroke-width="0.15" font-weight="bold" transform="rotate(-90 187.4 599.8)" textLength="25.6" lengthAdjust="spacingAndGlyphs">AUC (a.u.)</text>
<rect x="212.2" y="591.31" width="11.4" height="29.39" fill="#ffffff" stroke="#444" stroke-width="0.8"/>
<rect x="228.8" y="589.53" width="10.9" height="31.17" fill="#e6e6e6" stroke="#444" stroke-width="0.8"/>
<rect x="245.4" y="591.75" width="11.3" height="28.95" fill="#b3b3b3" stroke="#444" stroke-width="0.8"/>
<circle cx="215.4" cy="586.41" r="1.3" fill="#fff" stroke="#222" stroke-width="0.7"/>
<circle cx="219.9" cy="588.19" r="1.3" fill="#fff" stroke="#222" stroke-width="0.7"/>
<circle cx="217.9" cy="590.42" r="1.3" fill="#fff" stroke="#222" stroke-width="0.7"/>
<circle cx="214.9" cy="591.31" r="1.3" fill="#fff" stroke="#222" stroke-width="0.7"/>
<circle cx="220.9" cy="590.86" r="1.3" fill="#fff" stroke="#222" stroke-width="0.7"/>
<circle cx="216.9" cy="592.64" r="1.3" fill="#fff" stroke="#222" stroke-width="0.7"/>
<circle cx="219.4" cy="593.98" r="1.3" fill="#fff" stroke="#222" stroke-width="0.7"/>
<circle cx="215.9" cy="589.97" r="1.3" fill="#fff" stroke="#222" stroke-width="0.7"/>
<circle cx="234.25" cy="575.72" r="1.3" fill="#858585" stroke="#222" stroke-width="0.7"/>
<circle cx="234.25" cy="584.18" r="1.3" fill="#858585" stroke="#222" stroke-width="0.7"/>
<circle cx="231.25" cy="590.42" r="1.3" fill="#858585" stroke="#222" stroke-width="0.7"/>
<circle cx="236.75" cy="589.53" r="1.3" fill="#858585" stroke="#222" stroke-width="0.7"/>
<circle cx="237.25" cy="591.31" r="1.3" fill="#858585" stroke="#222" stroke-width="0.7"/>
<circle cx="233.25" cy="597.1" r="1.3" fill="#858585" stroke="#222" stroke-width="0.7"/>
<circle cx="235.25" cy="593.98" r="1.3" fill="#858585" stroke="#222" stroke-width="0.7"/>
<circle cx="248.05" cy="581.07" r="1.3" fill="#111" stroke="#222" stroke-width="0.7"/>
<circle cx="254.55" cy="583.74" r="1.3" fill="#111" stroke="#222" stroke-width="0.7"/>
<circle cx="251.05" cy="586.85" r="1.3" fill="#111" stroke="#222" stroke-width="0.7"/>
<circle cx="248.55" cy="591.31" r="1.3" fill="#111" stroke="#222" stroke-width="0.7"/>
<circle cx="252.05" cy="590.42" r="1.3" fill="#111" stroke="#222" stroke-width="0.7"/>
<circle cx="254.05" cy="593.98" r="1.3" fill="#111" stroke="#222" stroke-width="0.7"/>
<circle cx="250.05" cy="595.76" r="1.3" fill="#111" stroke="#222" stroke-width="0.7"/>
<circle cx="248.05" cy="598.43" r="1.3" fill="#111" stroke="#222" stroke-width="0.7"/>
<circle cx="253.05" cy="598.43" r="1.3" fill="#111" stroke="#222" stroke-width="0.7"/>
<line x1="217.9" y1="591.31" x2="217.9" y2="589.97" stroke="#222" stroke-width="0.7"/>
<line x1="215.9" y1="589.97" x2="219.9" y2="589.97" stroke="#222" stroke-width="0.7"/>
<line x1="234.25" y1="589.53" x2="234.25" y2="586.85" stroke="#222" stroke-width="0.7"/>
<line x1="232.25" y1="586.85" x2="236.25" y2="586.85" stroke="#222" stroke-width="0.7"/>
<line x1="251.05" y1="591.75" x2="251.05" y2="589.53" stroke="#222" stroke-width="0.7"/>
<line x1="249.05" y1="589.53" x2="253.05" y2="589.53" stroke="#222" stroke-width="0.7"/>
<line x1="207" y1="553.9" x2="207" y2="621.2" stroke="#333" stroke-width="0.9"/>
<line x1="205.5" y1="620.7" x2="261.3" y2="620.7" stroke="#333" stroke-width="0.9"/>
<line x1="205" y1="620.7" x2="207" y2="620.7" stroke="#333" stroke-width="0.7"/>
<text x="205.2" y="622.4" font-size="4.8" stroke="#111" stroke-width="0.3" text-anchor="end" textLength="2.8" lengthAdjust="spacingAndGlyphs">0</text>
<line x1="205" y1="598.43" x2="207" y2="598.43" stroke="#333" stroke-width="0.7"/>
<text x="205.2" y="600.13" font-size="4.8" stroke="#111" stroke-width="0.3" text-anchor="end" textLength="11.2" lengthAdjust="spacingAndGlyphs">5000</text>
<line x1="205" y1="576.17" x2="207" y2="576.17" stroke="#333" stroke-width="0.7"/>
<text x="205.2" y="577.87" font-size="4.8" stroke="#111" stroke-width="0.3" text-anchor="end" textLength="14" lengthAdjust="spacingAndGlyphs">10000</text>
<line x1="205" y1="553.9" x2="207" y2="553.9" stroke="#333" stroke-width="0.7"/>
<text x="205.2" y="555.6" font-size="4.8" stroke="#111" stroke-width="0.3" text-anchor="end" textLength="14" lengthAdjust="spacingAndGlyphs">15000</text>
<line x1="217.9" y1="620.7" x2="217.9" y2="622.2" stroke="#333" stroke-width="0.7"/>
<text x="218.9" y="626.1" font-size="5" stroke="#111" stroke-width="0.25" font-weight="bold" text-anchor="end" transform="rotate(-45 218.9 626.1)" textLength="16.5" lengthAdjust="spacingAndGlyphs">Rip-Cre</text>
<line x1="234.25" y1="620.7" x2="234.25" y2="622.2" stroke="#333" stroke-width="0.7"/>
<text x="235.25" y="626.1" font-size="5" stroke="#111" stroke-width="0.25" font-weight="bold" text-anchor="end" transform="rotate(-45 235.25 626.1)" textLength="19.5" lengthAdjust="spacingAndGlyphs">eIF4G1f/f</text>
<line x1="251.05" y1="620.7" x2="251.05" y2="622.2" stroke="#333" stroke-width="0.7"/>
<text x="252.05" y="626.1" font-size="5" stroke="#111" stroke-width="0.25" font-weight="bold" text-anchor="end" transform="rotate(-45 252.05 626.1)" textLength="28" lengthAdjust="spacingAndGlyphs">βeIF4G1KO</text>
<polyline points="216.6,570.1 216.6,570.1 251.5,570.1 251.5,570.1" fill="none" stroke="#333" stroke-width="0.8" stroke-linejoin="miter"/>
<text x="234.05" y="569" font-size="5" stroke="#111" stroke-width="0.3" text-anchor="middle" textLength="8.4" lengthAdjust="spacingAndGlyphs">n.s.</text>
<text x="262.5" y="497" font-size="16" stroke="#000" stroke-width="0.5" font-weight="bold" fill="#000">I</text>
<text x="343.8" y="501.8" font-size="9.4" stroke="#000" stroke-width="0.25" font-weight="bold" textLength="36.8" lengthAdjust="spacingAndGlyphs" fill="#000">FEMALE</text>
<text x="271.5" y="607" font-size="7.9" stroke="#111" stroke-width="0.35" transform="rotate(-90 271.5 607)" textLength="97" lengthAdjust="spacingAndGlyphs">Blood Glucose (% to Fasting)</text>
<line x1="291.9" y1="512.9" x2="291.9" y2="609.2" stroke="#333" stroke-width="1.1"/>
<line x1="288.9" y1="606.2" x2="432.4" y2="606.2" stroke="#333" stroke-width="1.1"/>
<line x1="288.9" y1="606.2" x2="291.9" y2="606.2" stroke="#333" stroke-width="0.9"/>
<text x="288.7" y="608.6" font-size="6.7" stroke="#111" stroke-width="0.4" text-anchor="end" textLength="3.75" lengthAdjust="spacingAndGlyphs">0</text>
<line x1="288.9" y1="575.1" x2="291.9" y2="575.1" stroke="#333" stroke-width="0.9"/>
<text x="288.7" y="577.5" font-size="6.7" stroke="#111" stroke-width="0.4" text-anchor="end" textLength="7.5" lengthAdjust="spacingAndGlyphs">50</text>
<line x1="288.9" y1="544" x2="291.9" y2="544" stroke="#333" stroke-width="0.9"/>
<text x="288.7" y="546.4" font-size="6.7" stroke="#111" stroke-width="0.4" text-anchor="end" textLength="11.25" lengthAdjust="spacingAndGlyphs">100</text>
<line x1="288.9" y1="512.9" x2="291.9" y2="512.9" stroke="#333" stroke-width="0.9"/>
<text x="288.7" y="515.3" font-size="6.7" stroke="#111" stroke-width="0.4" text-anchor="end" textLength="11.25" lengthAdjust="spacingAndGlyphs">150</text>
<line x1="291.9" y1="606.2" x2="291.9" y2="609.2" stroke="#333" stroke-width="0.9"/>
<text x="291.9" y="616.1" font-size="7.9" stroke="#111" stroke-width="0.35" text-anchor="middle" textLength="4.1" lengthAdjust="spacingAndGlyphs">0</text>
<line x1="326.9" y1="606.2" x2="326.9" y2="609.2" stroke="#333" stroke-width="0.9"/>
<text x="326.9" y="616.1" font-size="7.9" stroke="#111" stroke-width="0.35" text-anchor="middle" textLength="8.2" lengthAdjust="spacingAndGlyphs">30</text>
<line x1="361.9" y1="606.2" x2="361.9" y2="609.2" stroke="#333" stroke-width="0.9"/>
<text x="361.9" y="616.1" font-size="7.9" stroke="#111" stroke-width="0.35" text-anchor="middle" textLength="8.2" lengthAdjust="spacingAndGlyphs">60</text>
<line x1="396.9" y1="606.2" x2="396.9" y2="609.2" stroke="#333" stroke-width="0.9"/>
<text x="396.9" y="616.1" font-size="7.9" stroke="#111" stroke-width="0.35" text-anchor="middle" textLength="8.2" lengthAdjust="spacingAndGlyphs">90</text>
<line x1="431.9" y1="606.2" x2="431.9" y2="609.2" stroke="#333" stroke-width="0.9"/>
<text x="431.9" y="616.1" font-size="7.9" stroke="#111" stroke-width="0.35" text-anchor="middle" textLength="12.3" lengthAdjust="spacingAndGlyphs">120</text>
<text x="362.2" y="627.6" font-size="8.4" stroke="#111" stroke-width="0.45" text-anchor="middle" textLength="36" lengthAdjust="spacingAndGlyphs">Time (Min)</text>
<polyline points="291.9,544 326.9,585.67 361.9,592.52 431.9,581.32" fill="none" stroke="#111" stroke-width="1.05" stroke-linejoin="miter"/>
<polyline points="291.9,544 326.9,582.56 361.9,590.03 431.9,580.08" fill="none" stroke="#111" stroke-width="1.05" stroke-linejoin="miter"/>
<polyline points="291.9,544 326.9,581.32 361.9,589.41 431.9,578.83" fill="none" stroke="#111" stroke-width="1.05" stroke-linejoin="miter"/>
<line x1="326.9" y1="591.27" x2="326.9" y2="580.08" stroke="#111" stroke-width="0.8"/>
<line x1="325.1" y1="580.08" x2="328.7" y2="580.08" stroke="#111" stroke-width="0.8"/>
<line x1="325.1" y1="591.27" x2="328.7" y2="591.27" stroke="#111" stroke-width="0.8"/>
<line x1="361.9" y1="596.87" x2="361.9" y2="588.16" stroke="#111" stroke-width="0.8"/>
<line x1="360.1" y1="588.16" x2="363.7" y2="588.16" stroke="#111" stroke-width="0.8"/>
<line x1="360.1" y1="596.87" x2="363.7" y2="596.87" stroke="#111" stroke-width="0.8"/>
<line x1="431.9" y1="586.3" x2="431.9" y2="576.34" stroke="#111" stroke-width="0.8"/>
<line x1="430.1" y1="576.34" x2="433.7" y2="576.34" stroke="#111" stroke-width="0.8"/>
<line x1="430.1" y1="586.3" x2="433.7" y2="586.3" stroke="#111" stroke-width="0.8"/>
<line x1="326.9" y1="586.3" x2="326.9" y2="578.83" stroke="#111" stroke-width="0.8"/>
<line x1="325.1" y1="578.83" x2="328.7" y2="578.83" stroke="#111" stroke-width="0.8"/>
<line x1="325.1" y1="586.3" x2="328.7" y2="586.3" stroke="#111" stroke-width="0.8"/>
<line x1="361.9" y1="595.63" x2="361.9" y2="584.43" stroke="#111" stroke-width="0.8"/>
<line x1="360.1" y1="584.43" x2="363.7" y2="584.43" stroke="#111" stroke-width="0.8"/>
<line x1="360.1" y1="595.63" x2="363.7" y2="595.63" stroke="#111" stroke-width="0.8"/>
<line x1="431.9" y1="584.43" x2="431.9" y2="575.72" stroke="#111" stroke-width="0.8"/>
<line x1="430.1" y1="575.72" x2="433.7" y2="575.72" stroke="#111" stroke-width="0.8"/>
<line x1="430.1" y1="584.43" x2="433.7" y2="584.43" stroke="#111" stroke-width="0.8"/>
<line x1="326.9" y1="583.81" x2="326.9" y2="578.83" stroke="#111" stroke-width="0.8"/>
<line x1="325.1" y1="578.83" x2="328.7" y2="578.83" stroke="#111" stroke-width="0.8"/>
<line x1="325.1" y1="583.81" x2="328.7" y2="583.81" stroke="#111" stroke-width="0.8"/>
<line x1="361.9" y1="592.52" x2="361.9" y2="586.3" stroke="#111" stroke-width="0.8"/>
<line x1="360.1" y1="586.3" x2="363.7" y2="586.3" stroke="#111" stroke-width="0.8"/>
<line x1="360.1" y1="592.52" x2="363.7" y2="592.52" stroke="#111" stroke-width="0.8"/>
<line x1="431.9" y1="581.32" x2="431.9" y2="576.34" stroke="#111" stroke-width="0.8"/>
<line x1="430.1" y1="576.34" x2="433.7" y2="576.34" stroke="#111" stroke-width="0.8"/>
<line x1="430.1" y1="581.32" x2="433.7" y2="581.32" stroke="#111" stroke-width="0.8"/>
<polygon points="291.9,542.04 293.77,545.36 290.03,545.36" fill="#fff" stroke="#111" stroke-width="0.9"/>
<polygon points="326.9,583.72 328.77,587.03 325.03,587.03" fill="#fff" stroke="#111" stroke-width="0.9"/>
<polygon points="361.9,590.56 363.77,593.88 360.03,593.88" fill="#fff" stroke="#111" stroke-width="0.9"/>
<polygon points="431.9,579.37 433.77,582.68 430.03,582.68" fill="#fff" stroke="#111" stroke-width="0.9"/>
<polygon points="291.9,542.04 293.77,545.36 290.03,545.36" fill="#ddd" stroke="#111" stroke-width="0.9"/>
<polygon points="326.9,580.61 328.77,583.92 325.03,583.92" fill="#ddd" stroke="#111" stroke-width="0.9"/>
<polygon points="361.9,588.07 363.77,591.39 360.03,591.39" fill="#ddd" stroke="#111" stroke-width="0.9"/>
<polygon points="431.9,578.12 433.77,581.44 430.03,581.44" fill="#ddd" stroke="#111" stroke-width="0.9"/>
<polygon points="291.9,542.04 293.77,545.36 290.03,545.36" fill="#111" stroke="#111" stroke-width="0.9"/>
<polygon points="326.9,579.37 328.77,582.68 325.03,582.68" fill="#111" stroke="#111" stroke-width="0.9"/>
<polygon points="361.9,587.45 363.77,590.77 360.03,590.77" fill="#111" stroke="#111" stroke-width="0.9"/>
<polygon points="431.9,576.88 433.77,580.19 430.03,580.19" fill="#111" stroke="#111" stroke-width="0.9"/>
<line x1="376.3" y1="516.8" x2="386.3" y2="516.8" stroke="#111" stroke-width="1"/>
<polygon points="381.3,514.56 383.44,518.36 379.16,518.36" fill="#fff" stroke="#111" stroke-width="0.9"/>
<text x="391.8" y="519.6" font-size="8" stroke="#111" stroke-width="0.35" textLength="27" lengthAdjust="spacingAndGlyphs">Rip-Cre</text>
<line x1="376.3" y1="525.6" x2="386.3" y2="525.6" stroke="#111" stroke-width="1"/>
<polygon points="381.3,523.36 383.44,527.16 379.16,527.16" fill="#ddd" stroke="#111" stroke-width="0.9"/>
<text x="391.8" y="528.4" font-size="8" stroke="#111" stroke-width="0.35" textLength="28" lengthAdjust="spacingAndGlyphs">eIF4G1f/f</text>
<line x1="376.3" y1="534.5" x2="386.3" y2="534.5" stroke="#111" stroke-width="1"/>
<polygon points="381.3,532.26 383.44,536.06 379.16,536.06" fill="#111" stroke="#111" stroke-width="0.9"/>
<text x="391.8" y="537.3" font-size="8" stroke="#111" stroke-width="0.35" textLength="41" lengthAdjust="spacingAndGlyphs">βeIF4G1KO</text>
<text x="445.3" y="588.4" font-size="4.9" stroke="#111" stroke-width="0.15" font-weight="bold" transform="rotate(-90 445.3 588.4)" textLength="26.5" lengthAdjust="spacingAndGlyphs">AUC (a.u.)</text>
<rect x="470" y="585.79" width="12" height="22.81" fill="#ffffff" stroke="#444" stroke-width="0.8"/>
<rect x="486.2" y="586.68" width="12" height="21.92" fill="#e6e6e6" stroke="#444" stroke-width="0.8"/>
<rect x="503" y="584.89" width="11.6" height="23.71" fill="#b3b3b3" stroke="#444" stroke-width="0.8"/>
<circle cx="473.5" cy="583.55" r="1.3" fill="#fff" stroke="#222" stroke-width="0.7"/>
<circle cx="478" cy="584" r="1.3" fill="#fff" stroke="#222" stroke-width="0.7"/>
<circle cx="476" cy="585.79" r="1.3" fill="#fff" stroke="#222" stroke-width="0.7"/>
<circle cx="473" cy="587.13" r="1.3" fill="#fff" stroke="#222" stroke-width="0.7"/>
<circle cx="479" cy="586.68" r="1.3" fill="#fff" stroke="#222" stroke-width="0.7"/>
<circle cx="475" cy="588.47" r="1.3" fill="#fff" stroke="#222" stroke-width="0.7"/>
<circle cx="477.5" cy="588.92" r="1.3" fill="#fff" stroke="#222" stroke-width="0.7"/>
<circle cx="492.2" cy="573.71" r="1.3" fill="#858585" stroke="#222" stroke-width="0.7"/>
<circle cx="489.2" cy="586.68" r="1.3" fill="#858585" stroke="#222" stroke-width="0.7"/>
<circle cx="494.7" cy="586.23" r="1.3" fill="#858585" stroke="#222" stroke-width="0.7"/>
<circle cx="495.2" cy="588.47" r="1.3" fill="#858585" stroke="#222" stroke-width="0.7"/>
<circle cx="491.2" cy="591.6" r="1.3" fill="#858585" stroke="#222" stroke-width="0.7"/>
<circle cx="493.2" cy="590.71" r="1.3" fill="#858585" stroke="#222" stroke-width="0.7"/>
<circle cx="510.8" cy="565.21" r="1.3" fill="#111" stroke="#222" stroke-width="0.7"/>
<circle cx="507.8" cy="578.18" r="1.3" fill="#111" stroke="#222" stroke-width="0.7"/>
<circle cx="511.8" cy="579.52" r="1.3" fill="#111" stroke="#222" stroke-width="0.7"/>
<circle cx="505.8" cy="584" r="1.3" fill="#111" stroke="#222" stroke-width="0.7"/>
<circle cx="508.8" cy="586.23" r="1.3" fill="#111" stroke="#222" stroke-width="0.7"/>
<circle cx="511.8" cy="585.34" r="1.3" fill="#111" stroke="#222" stroke-width="0.7"/>
<circle cx="506.8" cy="589.36" r="1.3" fill="#111" stroke="#222" stroke-width="0.7"/>
<circle cx="509.8" cy="592.5" r="1.3" fill="#111" stroke="#222" stroke-width="0.7"/>
<circle cx="505.8" cy="591.6" r="1.3" fill="#111" stroke="#222" stroke-width="0.7"/>
<circle cx="511.8" cy="593.39" r="1.3" fill="#111" stroke="#222" stroke-width="0.7"/>
<line x1="476" y1="585.79" x2="476" y2="584" stroke="#222" stroke-width="0.7"/>
<line x1="474" y1="584" x2="478" y2="584" stroke="#222" stroke-width="0.7"/>
<line x1="492.2" y1="586.68" x2="492.2" y2="582.65" stroke="#222" stroke-width="0.7"/>
<line x1="490.2" y1="582.65" x2="494.2" y2="582.65" stroke="#222" stroke-width="0.7"/>
<line x1="508.8" y1="584.89" x2="508.8" y2="581.76" stroke="#222" stroke-width="0.7"/>
<line x1="506.8" y1="581.76" x2="510.8" y2="581.76" stroke="#222" stroke-width="0.7"/>
<line x1="464.2" y1="541.5" x2="464.2" y2="609.1" stroke="#333" stroke-width="0.9"/>
<line x1="462.7" y1="608.6" x2="520" y2="608.6" stroke="#333" stroke-width="0.9"/>
<line x1="462.2" y1="608.6" x2="464.2" y2="608.6" stroke="#333" stroke-width="0.7"/>
<text x="462.4" y="610.3" font-size="4.8" stroke="#111" stroke-width="0.3" text-anchor="end" textLength="2.75" lengthAdjust="spacingAndGlyphs">0</text>
<line x1="462.2" y1="586.23" x2="464.2" y2="586.23" stroke="#333" stroke-width="0.7"/>
<text x="462.4" y="587.93" font-size="4.8" stroke="#111" stroke-width="0.3" text-anchor="end" textLength="11" lengthAdjust="spacingAndGlyphs">5000</text>
<line x1="462.2" y1="563.87" x2="464.2" y2="563.87" stroke="#333" stroke-width="0.7"/>
<text x="462.4" y="565.57" font-size="4.8" stroke="#111" stroke-width="0.3" text-anchor="end" textLength="13.75" lengthAdjust="spacingAndGlyphs">10000</text>
<line x1="462.2" y1="541.5" x2="464.2" y2="541.5" stroke="#333" stroke-width="0.7"/>
<text x="462.4" y="543.2" font-size="4.8" stroke="#111" stroke-width="0.3" text-anchor="end" textLength="13.75" lengthAdjust="spacingAndGlyphs">15000</text>
<line x1="476" y1="608.6" x2="476" y2="610.1" stroke="#333" stroke-width="0.7"/>
<text x="477" y="614" font-size="5" stroke="#111" stroke-width="0.25" font-weight="bold" text-anchor="end" transform="rotate(-45 477 614)" textLength="16.5" lengthAdjust="spacingAndGlyphs">Rip-Cre</text>
<line x1="492.2" y1="608.6" x2="492.2" y2="610.1" stroke="#333" stroke-width="0.7"/>
<text x="493.2" y="614" font-size="5" stroke="#111" stroke-width="0.25" font-weight="bold" text-anchor="end" transform="rotate(-45 493.2 614)" textLength="19.5" lengthAdjust="spacingAndGlyphs">eIF4G1f/f</text>
<line x1="508.8" y1="608.6" x2="508.8" y2="610.1" stroke="#333" stroke-width="0.7"/>
<text x="509.8" y="614" font-size="5" stroke="#111" stroke-width="0.25" font-weight="bold" text-anchor="end" transform="rotate(-45 509.8 614)" textLength="28" lengthAdjust="spacingAndGlyphs">βeIF4G1KO</text>
<polyline points="475.4,558.5 475.4,558.5 510.8,558.5 510.8,558.5" fill="none" stroke="#333" stroke-width="0.8" stroke-linejoin="miter"/>
<text x="493.1" y="557.4" font-size="5" stroke="#111" stroke-width="0.3" text-anchor="middle" textLength="8" lengthAdjust="spacingAndGlyphs">n.s.</text></svg>
</body></html>
